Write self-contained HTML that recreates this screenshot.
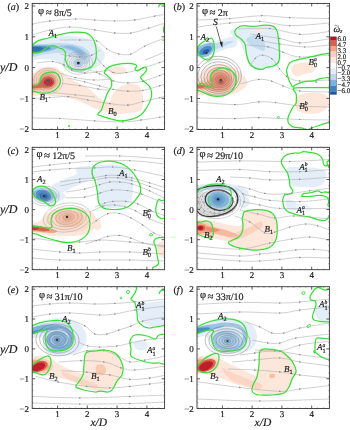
<!DOCTYPE html>
<html><head><meta charset="utf-8"><style>html,body{margin:0;padding:0;background:#fff;}svg{display:block;will-change:transform;}text{fill:#1a1a1a;stroke:#1a1a1a;stroke-width:0.18px;text-rendering:geometricPrecision;}</style></head><body>
<svg width="350" height="430" viewBox="0 0 350 430" font-family="Liberation Serif, serif">
<defs>
<clipPath id="c00"><rect x="32.2" y="3.4" width="132.4" height="126.1"/></clipPath>
<clipPath id="c01"><rect x="197.0" y="3.4" width="132.4" height="126.1"/></clipPath>
<clipPath id="c10"><rect x="32.2" y="147.3" width="132.4" height="122.4"/></clipPath>
<clipPath id="c11"><rect x="197.0" y="147.3" width="132.4" height="122.4"/></clipPath>
<clipPath id="c20"><rect x="32.2" y="286.7" width="132.4" height="121.8"/></clipPath>
<clipPath id="c21"><rect x="197.0" y="286.7" width="132.4" height="121.8"/></clipPath>
<marker id="ar" viewBox="0 0 4 4" refX="2" refY="2" markerWidth="2.4" markerHeight="2.4" orient="auto" markerUnits="userSpaceOnUse"><path d="M0,0.6 L4,2 L0,3.4z" fill="#8a8a8a"/></marker>
<filter id="sm" x="-5%" y="-5%" width="110%" height="110%"><feGaussianBlur stdDeviation="0.45"/></filter>
</defs>
<rect width="350" height="430" fill="#fff"/>
<g clip-path="url(#c00)"><g filter="url(#sm)">
<path d="M32.0,78.0C32.7,74.0 34.0,72.8 36.0,71.0C38.0,69.2 41.0,67.7 44.0,67.0C47.0,66.3 51.2,66.3 54.0,67.0C56.8,67.7 58.7,69.3 61.0,71.0C63.3,72.7 65.5,75.2 68.0,77.0C70.5,78.8 72.7,80.2 76.0,82.0C79.3,83.8 84.5,85.7 88.0,88.0C91.5,90.3 94.3,93.8 97.0,96.0C99.7,98.2 101.8,100.2 104.0,101.0C106.2,101.8 108.7,101.8 110.0,101.0C111.3,100.2 110.8,98.0 112.0,96.0C113.2,94.0 114.3,91.0 117.0,89.0C119.7,87.0 124.5,84.6 128.0,84.0C131.5,83.4 135.7,84.3 138.0,85.6C140.3,86.9 141.2,89.1 142.0,92.0C142.8,94.9 143.3,99.8 143.0,103.0C142.7,106.2 142.7,109.3 140.0,111.0C137.3,112.7 131.2,112.4 127.0,113.0C122.8,113.6 118.8,114.8 115.0,114.5C111.2,114.2 107.3,112.0 104.0,111.0C100.7,110.0 98.0,109.7 95.0,108.5C92.0,107.3 89.2,105.4 86.0,104.0C82.8,102.6 79.7,101.2 76.0,100.0C72.3,98.8 68.0,97.7 64.0,97.0C60.0,96.3 56.0,96.3 52.0,96.0C48.0,95.7 43.3,95.2 40.0,95.0C36.7,94.8 33.3,97.8 32.0,95.0C30.7,92.2 31.3,82.0 32.0,78.0Z" fill="#fde6da"/>
<path d="M110.0,69.0C111.2,68.0 114.5,66.7 117.0,66.5C119.5,66.3 123.1,67.3 124.7,68.0C126.3,68.7 126.9,69.9 126.6,70.8C126.3,71.7 125.2,73.0 123.0,73.6C120.8,74.2 115.8,74.7 113.6,74.5C111.4,74.3 110.6,73.5 110.0,72.6C109.4,71.7 108.8,70.0 110.0,69.0Z" fill="#fde6da"/>
<path d="M32.0,79.0C32.8,75.5 34.8,73.8 37.0,72.0C39.2,70.2 42.3,69.0 45.0,68.5C47.7,68.0 50.8,68.2 53.0,69.0C55.2,69.8 57.2,71.7 58.5,73.5C59.8,75.3 61.1,77.8 61.0,80.0C60.9,82.2 59.7,85.2 58.0,87.0C56.3,88.8 53.7,90.2 51.0,91.0C48.3,91.8 44.7,91.2 42.0,91.5C39.3,91.8 36.7,92.8 35.0,93.0C33.3,93.2 32.5,95.3 32.0,93.0C31.5,90.7 31.2,82.5 32.0,79.0Z" fill="#fbd0bb"/>
<path d="M32.0,84.0C33.0,82.8 36.6,84.1 38.0,83.0C39.4,81.9 39.4,79.0 40.5,77.5C41.6,76.0 42.9,74.5 44.5,73.8C46.1,73.1 48.2,73.0 50.0,73.5C51.8,74.0 54.4,75.4 55.5,77.0C56.6,78.6 56.9,81.2 56.5,83.0C56.1,84.8 54.8,86.9 53.0,88.0C51.2,89.1 48.5,89.2 46.0,89.5C43.5,89.8 40.3,89.4 38.0,89.5C35.7,89.6 33.0,90.9 32.0,90.0C31.0,89.1 31.0,85.2 32.0,84.0Z" fill="#f4a582"/>
<path d="M32.0,85.5C32.8,85.0 35.5,85.8 37.0,85.0C38.5,84.2 39.8,81.8 41.0,80.5C42.2,79.2 43.0,77.7 44.5,77.0C46.0,76.3 48.5,76.1 50.0,76.5C51.5,76.9 53.0,78.2 53.5,79.5C54.0,80.8 53.8,83.2 53.0,84.5C52.2,85.8 50.5,87.0 48.5,87.5C46.5,88.0 43.2,87.7 41.0,87.8C38.8,87.9 36.5,88.1 35.0,88.2C33.5,88.3 32.5,88.7 32.0,88.2C31.5,87.8 31.2,86.0 32.0,85.5Z" fill="#d6604d"/>
<ellipse cx="48.5" cy="82.0" rx="6.2" ry="5.3" fill="#d9503f"/>
<ellipse cx="48.5" cy="82.2" rx="4.6" ry="3.6" fill="#c01a2a"/>
<path d="M32.0,44.0C33.3,40.8 36.7,41.2 40.0,40.0C43.3,38.8 47.7,37.8 52.0,37.0C56.3,36.2 61.3,35.5 66.0,35.5C70.7,35.5 75.7,36.1 80.0,37.0C84.3,37.9 88.7,39.3 92.0,41.0C95.3,42.7 97.8,44.8 100.0,47.0C102.2,49.2 104.5,51.7 105.0,54.0C105.5,56.3 104.3,58.8 103.0,61.0C101.7,63.2 99.5,65.3 97.0,67.0C94.5,68.7 91.5,70.2 88.0,71.0C84.5,71.8 79.7,72.3 76.0,72.0C72.3,71.7 68.7,70.3 66.0,69.0C63.3,67.7 62.2,65.5 60.0,64.0C57.8,62.5 56.0,60.8 53.0,60.0C50.0,59.2 45.5,59.2 42.0,59.0C38.5,58.8 33.7,61.5 32.0,59.0C30.3,56.5 30.7,47.2 32.0,44.0Z" fill="#e4eef8"/>
<path d="M32.0,46.0C34.0,43.9 39.7,44.5 44.0,44.0C48.3,43.5 53.3,43.0 58.0,43.0C62.7,43.0 67.7,43.2 72.0,44.0C76.3,44.8 81.0,45.8 84.0,47.5C87.0,49.2 89.2,51.6 90.0,54.0C90.8,56.4 90.2,60.3 89.0,62.0C87.8,63.7 85.2,64.7 83.0,64.0C80.8,63.3 78.5,59.7 76.0,58.0C73.5,56.3 71.0,54.8 68.0,54.0C65.0,53.2 62.0,52.9 58.0,53.0C54.0,53.1 48.3,53.9 44.0,54.5C39.7,55.1 34.0,57.9 32.0,56.5C30.0,55.1 30.0,48.1 32.0,46.0Z" fill="#c5dcef"/>
<path d="M32.0,46.3C33.3,44.7 37.0,45.0 40.0,44.8C43.0,44.6 47.0,44.6 50.0,45.0C53.0,45.4 57.7,46.1 58.0,47.0C58.3,47.9 55.0,49.5 52.0,50.5C49.0,51.5 43.3,52.2 40.0,52.8C36.7,53.4 33.3,55.4 32.0,54.3C30.7,53.2 30.7,47.9 32.0,46.3Z" fill="#8cbde0"/>
<path d="M32.0,46.8C33.0,45.6 35.7,46.0 38.0,46.0C40.3,46.0 43.8,46.2 46.0,46.6C48.2,47.0 51.2,47.6 51.0,48.3C50.8,49.0 47.5,50.1 45.0,50.8C42.5,51.5 38.2,52.2 36.0,52.6C33.8,53.0 32.7,54.2 32.0,53.2C31.3,52.2 31.0,48.0 32.0,46.8Z" fill="#4a8cc6"/>
<path d="M32.0,47.6C32.8,46.8 35.2,47.0 37.0,47.0C38.8,47.0 42.3,47.3 43.0,47.8C43.7,48.3 42.3,49.6 41.0,50.2C39.7,50.8 36.5,51.3 35.0,51.6C33.5,51.9 32.5,52.6 32.0,51.9C31.5,51.2 31.2,48.4 32.0,47.6Z" fill="#2f6db3"/>
<path d="M58.0,46.0C58.7,45.3 66.2,44.6 70.0,45.0C73.8,45.4 78.2,46.9 81.0,48.5C83.8,50.1 86.3,52.6 87.0,54.5C87.7,56.4 86.2,59.4 85.0,60.0C83.8,60.6 81.8,59.3 80.0,58.0C78.2,56.7 76.3,53.5 74.0,52.0C71.7,50.5 68.7,50.0 66.0,49.0C63.3,48.0 57.3,46.7 58.0,46.0Z" fill="#a3c8e8"/>
<path d="M64.0,46.5C64.7,46.2 69.3,46.0 72.0,46.5C74.7,47.0 78.0,48.2 80.0,49.5C82.0,50.8 83.8,53.0 84.0,54.0C84.2,55.0 82.5,56.0 81.0,55.5C79.5,55.0 77.2,52.2 75.0,51.0C72.8,49.8 69.8,49.2 68.0,48.5C66.2,47.8 63.3,46.8 64.0,46.5Z" fill="#8ab8e0"/>
<ellipse cx="78.3" cy="63.1" rx="5.0" ry="4.0" fill="#b7d5ed"/>
<ellipse cx="78.3" cy="63.1" rx="2.6" ry="2.0" fill="none" stroke="#999" stroke-width="0.42"/>
<ellipse cx="78.3" cy="63.1" rx="4.7" ry="3.7" fill="none" stroke="#999" stroke-width="0.42"/>
<ellipse cx="78.3" cy="63.1" rx="6.8" ry="5.3" fill="none" stroke="#999" stroke-width="0.42"/>
<ellipse cx="78.3" cy="63.1" rx="9.0" ry="7.1" fill="none" stroke="#999" stroke-width="0.42"/>
<ellipse cx="78.3" cy="63.1" rx="11.6" ry="9.0" fill="none" stroke="#999" stroke-width="0.42"/>
<ellipse cx="78.3" cy="63.1" rx="14.5" ry="11.3" fill="none" stroke="#999" stroke-width="0.42"/>
<ellipse cx="48.3" cy="81.0" rx="2.6" ry="2.3" fill="none" stroke="#999" stroke-width="0.42"/>
<ellipse cx="48.3" cy="81.0" rx="4.7" ry="4.1" fill="none" stroke="#999" stroke-width="0.42"/>
<ellipse cx="48.3" cy="81.0" rx="6.9" ry="6.1" fill="none" stroke="#999" stroke-width="0.42"/>
<ellipse cx="48.3" cy="81.0" rx="9.5" ry="8.3" fill="none" stroke="#999" stroke-width="0.42"/>
<ellipse cx="48.3" cy="81.0" rx="12.1" ry="10.6" fill="none" stroke="#999" stroke-width="0.42"/>
<ellipse cx="48.3" cy="81.0" rx="14.7" ry="12.9" fill="none" stroke="#999" stroke-width="0.42"/>
<ellipse cx="78.3" cy="63.1" rx="1.5" ry="1.4" fill="#2a2a2a"/>
<ellipse cx="48.3" cy="81.0" rx="1.5" ry="1.4" fill="#555"/>
<path d="M32.0,24.0C35.0,23.5 42.7,21.8 50.0,21.0C57.3,20.2 68.5,19.2 76.0,19.0C83.5,18.8 88.5,19.7 95.0,20.0C101.5,20.3 108.3,21.0 115.0,21.0C121.7,21.0 128.3,20.8 135.0,20.0C141.7,19.2 150.0,16.9 155.0,16.0C160.0,15.1 163.3,14.7 165.0,14.4" fill="none" stroke="#a8a8a8" stroke-width="0.55" marker-mid="url(#ar)"/>
<path d="M32.0,35.0C35.0,34.2 43.7,31.3 50.0,30.0C56.3,28.7 62.5,27.0 70.0,27.0C77.5,27.0 87.5,29.0 95.0,30.0C102.5,31.0 109.0,32.5 115.0,33.0C121.0,33.5 125.3,33.8 131.0,33.0C136.7,32.2 143.3,29.7 149.0,28.0C154.7,26.3 162.3,23.8 165.0,23.0" fill="none" stroke="#a8a8a8" stroke-width="0.55" marker-mid="url(#ar)"/>
<path d="M60.0,40.0C63.3,40.0 73.8,39.8 80.0,40.0C86.2,40.2 92.5,39.5 97.0,41.0C101.5,42.5 103.3,46.8 107.0,49.0C110.7,51.2 115.0,53.2 119.0,54.0C123.0,54.8 126.7,55.3 131.0,54.0C135.3,52.7 139.3,48.7 145.0,46.0C150.7,43.3 161.7,39.3 165.0,38.0" fill="none" stroke="#a8a8a8" stroke-width="0.55" marker-mid="url(#ar)"/>
<path d="M96.0,57.0C97.3,58.5 101.1,63.4 104.0,66.0C106.9,68.6 109.8,71.5 113.6,72.6C117.4,73.7 121.6,73.4 126.6,72.6C131.6,71.8 137.7,69.7 143.3,68.0C148.9,66.3 156.2,63.7 160.0,62.4C163.8,61.1 165.0,60.4 166.0,60.0" fill="none" stroke="#a8a8a8" stroke-width="0.55" marker-mid="url(#ar)"/>
<path d="M90.0,70.0C91.7,70.7 96.1,72.2 100.0,74.0C103.9,75.8 108.9,79.5 113.6,81.0C118.3,82.5 123.5,82.9 128.4,82.9C133.4,82.9 138.0,82.2 143.3,81.0C148.6,79.8 156.2,76.7 160.0,75.4C163.8,74.1 165.0,73.4 166.0,73.0" fill="none" stroke="#a8a8a8" stroke-width="0.55" marker-mid="url(#ar)"/>
<path d="M68.0,78.0C70.8,78.7 79.7,80.7 85.0,82.0C90.3,83.3 95.2,84.8 100.0,86.0C104.8,87.2 108.9,88.5 113.6,89.4C118.3,90.3 123.5,91.1 128.4,91.2C133.4,91.3 138.0,91.2 143.3,90.3C148.6,89.4 156.2,86.6 160.0,85.6C163.8,84.5 165.0,84.3 166.0,84.0" fill="none" stroke="#a8a8a8" stroke-width="0.55" marker-mid="url(#ar)"/>
<path d="M32.0,98.6C35.0,98.4 43.9,97.8 50.0,97.5C56.1,97.2 62.3,96.3 68.6,96.7C74.9,97.1 81.1,98.8 88.0,100.0C94.9,101.2 103.3,102.9 110.0,103.7C116.7,104.5 122.9,105.5 128.4,105.1C134.0,104.7 138.0,102.6 143.3,101.4C148.6,100.2 156.2,98.6 160.0,97.7C163.8,96.8 165.0,96.3 166.0,96.0" fill="none" stroke="#a8a8a8" stroke-width="0.55" marker-mid="url(#ar)"/>
<path d="M32.0,118.0C36.7,118.1 49.5,118.0 60.0,118.5C70.5,119.0 84.5,120.3 95.0,120.9C105.5,121.5 115.2,122.1 122.9,121.9C130.6,121.8 135.2,120.8 141.4,120.0C147.6,119.2 155.9,117.9 160.0,117.2C164.1,116.5 165.0,116.2 166.0,116.0" fill="none" stroke="#a8a8a8" stroke-width="0.55" marker-mid="url(#ar)"/>
<path d="M145.0,60.0C148.3,58.7 161.7,53.3 165.0,52.0" fill="none" stroke="#a8a8a8" stroke-width="0.55" marker-mid="url(#ar)"/>
<path d="M37.0,62.9C39.6,62.7 48.4,61.3 52.9,61.7C57.4,62.1 61.1,63.7 64.3,65.1C67.5,66.5 68.5,68.7 72.0,70.0C75.5,71.3 80.8,72.7 85.0,73.0C89.2,73.3 92.8,72.5 97.0,72.0C101.2,71.5 107.8,70.3 110.0,70.0" fill="none" stroke="#a8a8a8" stroke-width="0.55" marker-mid="url(#ar)"/>
<path d="M59.7,73.1C62.4,73.9 70.0,76.5 75.7,77.7C81.4,78.9 88.3,79.8 94.0,80.0C99.7,80.2 107.3,79.2 110.0,79.0" fill="none" stroke="#a8a8a8" stroke-width="0.55" marker-mid="url(#ar)"/>
<path d="M62.0,83.4C65.0,83.8 74.2,84.8 80.3,85.7C86.4,86.7 93.6,88.3 98.6,89.1C103.5,89.9 108.1,90.1 110.0,90.3" fill="none" stroke="#a8a8a8" stroke-width="0.55" marker-mid="url(#ar)"/>
<path d="M52.9,92.6C56.7,93.0 68.7,94.2 75.7,94.9C82.7,95.6 91.8,96.7 95.0,97.0" fill="none" stroke="#a8a8a8" stroke-width="0.55" marker-mid="url(#ar)"/>
<path d="M60.0,54.0C61.7,54.3 66.7,55.5 70.0,56.0C73.3,56.5 76.3,57.2 80.0,57.0C83.7,56.8 88.7,56.2 92.0,55.0C95.3,53.8 98.7,50.8 100.0,50.0" fill="none" stroke="#a8a8a8" stroke-width="0.55" marker-mid="url(#ar)"/>
</g>
<path d="M32.0,47.1C32.8,45.4 34.2,42.9 36.9,41.4C39.6,39.9 44.5,39.1 48.3,38.0C52.1,36.9 55.9,35.6 59.7,34.6C63.5,33.6 66.9,32.6 71.1,32.3C75.3,32.0 81.5,31.9 84.9,32.7C88.3,33.5 90.0,35.1 91.7,36.9C93.4,38.7 94.3,41.0 95.1,43.7C95.9,46.4 96.4,50.0 96.4,52.9C96.4,55.8 96.1,58.8 95.3,61.0C94.5,63.2 93.4,65.0 91.7,66.4C90.0,67.8 87.6,68.9 84.9,69.4C82.2,69.9 78.4,70.0 75.7,69.6C73.0,69.2 70.6,68.4 68.9,66.8C67.2,65.2 66.0,62.0 65.4,59.7C64.8,57.4 65.8,54.6 65.4,52.9C65.0,51.2 64.0,50.2 63.1,49.4C62.1,48.6 61.0,48.9 59.7,48.3C58.4,47.7 56.6,46.4 55.1,46.0C53.6,45.6 52.1,45.6 50.6,46.0C49.1,46.4 47.5,47.3 46.0,48.3C44.5,49.2 42.9,50.9 41.4,51.7C39.9,52.5 38.5,52.9 36.9,52.9C35.3,52.9 32.8,52.7 32.0,51.7C31.2,50.7 31.2,48.8 32.0,47.1Z" fill="none" stroke="#3cdc3c" stroke-width="1.25" stroke-linejoin="round"/>
<path d="M32.3,86.1C33.1,85.1 35.7,85.7 36.9,85.0C38.1,84.3 39.0,83.3 39.7,82.1C40.4,80.9 40.2,78.9 40.9,77.6C41.6,76.3 42.5,75.0 43.7,74.1C44.9,73.2 46.6,72.7 48.3,72.4C50.0,72.1 52.4,72.0 54.0,72.4C55.6,72.8 57.0,73.5 58.0,74.7C59.0,76.0 60.0,78.3 60.3,79.9C60.6,81.5 60.3,83.0 59.7,84.4C59.1,85.8 58.0,87.2 56.9,88.4C55.8,89.6 54.5,90.5 52.9,91.3C51.3,92.1 49.2,92.7 47.1,93.0C45.0,93.3 42.4,93.3 40.3,93.0C38.2,92.7 36.0,91.7 34.6,91.3C33.2,90.9 32.4,91.6 32.0,90.7C31.6,89.8 31.5,87.0 32.3,86.1Z" fill="none" stroke="#3cdc3c" stroke-width="1.25" stroke-linejoin="round"/>
<path d="M104.3,72.6C104.6,71.2 106.7,68.5 108.9,67.1C111.1,65.7 114.2,64.9 117.3,64.3C120.4,63.7 124.6,63.4 127.5,63.4C130.4,63.4 133.3,63.8 134.9,64.3C136.5,64.8 136.8,65.3 136.8,66.1C136.8,66.9 134.8,68.1 134.9,68.9C135.1,69.7 136.4,71.0 137.7,70.8C138.9,70.6 141.2,68.6 142.4,68.0C143.6,67.4 144.4,66.8 145.1,67.1C145.8,67.4 146.8,68.8 146.6,69.9C146.4,71.0 145.2,72.4 144.2,73.6C143.2,74.8 140.7,76.1 140.5,77.3C140.3,78.5 141.9,79.6 143.3,81.0C144.7,82.4 147.5,83.8 148.9,85.6C150.3,87.4 151.3,89.8 151.6,92.1C151.9,94.4 151.5,97.1 150.7,99.6C149.9,102.1 148.6,104.5 147.0,107.0C145.4,109.5 143.9,112.4 141.4,114.4C138.9,116.4 135.5,118.0 132.1,119.1C128.7,120.2 124.4,120.9 121.0,120.9C117.6,120.9 114.8,119.9 111.7,119.1C108.6,118.3 104.7,117.1 102.4,116.3C100.1,115.5 98.0,115.5 97.8,114.4C97.6,113.3 100.4,112.0 101.5,109.8C102.6,107.6 103.2,104.4 104.3,101.4C105.4,98.5 106.8,94.7 108.0,92.1C109.2,89.5 111.2,87.8 111.7,85.6C112.2,83.4 111.6,80.8 110.8,79.1C110.0,77.4 108.2,76.5 107.1,75.4C106.0,74.3 104.0,74.0 104.3,72.6Z" fill="none" stroke="#3cdc3c" stroke-width="1.25" stroke-linejoin="round"/>
<circle cx="69" cy="126" r="1" fill="#3cdc3c"/>
<path d="M158.5,7.0C158.8,6.6 159.2,5.0 160.0,4.5C160.8,4.0 162.2,3.9 163.0,4.0C163.8,4.1 164.7,4.8 165.0,5.0" fill="none" stroke="#3cdc3c" stroke-width="1.25" stroke-linejoin="round"/>
<path d="M164.5,25.5C164.3,26.1 163.6,27.8 163.5,29.0C163.4,30.2 163.9,32.3 164.0,33.0" fill="none" stroke="#3cdc3c" stroke-width="1.25" stroke-linejoin="round"/>
<path d="M162.5,40.0C162.8,40.0 164.2,40.0 164.5,40.0" fill="none" stroke="#3cdc3c" stroke-width="1.25" stroke-linejoin="round"/>
</g>
<text x="38.1" y="14.2" font-size="10.5">&#966;</text>
<text y="15.5" font-size="10.0"><tspan x="45.7" font-size="11">&#8776;</tspan><tspan x="53.9">8&#960;/5</tspan></text>
<text x="48.6" y="35.5" font-size="9.0" fill="#222"><tspan font-style="italic">A</tspan><tspan font-size="6.3" dy="2">1</tspan></text>
<text x="39.5" y="99.8" font-size="9.0" fill="#222"><tspan font-style="italic">B</tspan><tspan font-size="6.3" dy="2">1</tspan></text>
<text x="108.0" y="114.0" font-size="9.0" fill="#222"><tspan font-style="italic">B</tspan><tspan font-size="6.3" dy="2">0</tspan></text>
<path d="M57.6,129.5v-3.0M57.6,3.4v3.0M87.3,129.5v-3.0M87.3,3.4v3.0M117.1,129.5v-3.0M117.1,3.4v3.0M146.9,129.5v-3.0M146.9,3.4v3.0M32.2,98.4h3.0M164.6,98.4h-3.0M32.2,67.6h3.0M164.6,67.6h-3.0M32.2,36.8h3.0M164.6,36.8h-3.0M32.2,6.0h3.0M164.6,6.0h-3.0" stroke="#333" stroke-width="0.8" fill="none"/>
<path d="M33.8,129.5v-1.3M33.8,3.4v1.3M39.7,129.5v-1.3M39.7,3.4v1.3M45.7,129.5v-1.3M45.7,3.4v1.3M51.6,129.5v-1.3M51.6,3.4v1.3M63.5,129.5v-1.3M63.5,3.4v1.3M69.5,129.5v-1.3M69.5,3.4v1.3M75.4,129.5v-1.3M75.4,3.4v1.3M81.4,129.5v-1.3M81.4,3.4v1.3M93.3,129.5v-1.3M93.3,3.4v1.3M99.2,129.5v-1.3M99.2,3.4v1.3M105.2,129.5v-1.3M105.2,3.4v1.3M111.2,129.5v-1.3M111.2,3.4v1.3M123.1,129.5v-1.3M123.1,3.4v1.3M129.0,129.5v-1.3M129.0,3.4v1.3M135.0,129.5v-1.3M135.0,3.4v1.3M140.9,129.5v-1.3M140.9,3.4v1.3M152.8,129.5v-1.3M152.8,3.4v1.3M158.8,129.5v-1.3M158.8,3.4v1.3M32.2,123.0h1.3M164.6,123.0h-1.3M32.2,116.9h1.3M164.6,116.9h-1.3M32.2,110.7h1.3M164.6,110.7h-1.3M32.2,104.6h1.3M164.6,104.6h-1.3M32.2,92.2h1.3M164.6,92.2h-1.3M32.2,86.1h1.3M164.6,86.1h-1.3M32.2,79.9h1.3M164.6,79.9h-1.3M32.2,73.8h1.3M164.6,73.8h-1.3M32.2,61.4h1.3M164.6,61.4h-1.3M32.2,55.3h1.3M164.6,55.3h-1.3M32.2,49.1h1.3M164.6,49.1h-1.3M32.2,43.0h1.3M164.6,43.0h-1.3M32.2,30.6h1.3M164.6,30.6h-1.3M32.2,24.5h1.3M164.6,24.5h-1.3M32.2,18.3h1.3M164.6,18.3h-1.3M32.2,12.2h1.3M164.6,12.2h-1.3" stroke="#888" stroke-width="0.5" fill="none"/>
<rect x="32.2" y="3.4" width="132.4" height="126.1" fill="none" stroke="#333" stroke-width="0.9"/>
<text x="57.6" y="138.1" font-size="9.0" text-anchor="middle" fill="#222">1</text>
<text x="87.3" y="138.1" font-size="9.0" text-anchor="middle" fill="#222">2</text>
<text x="117.1" y="138.1" font-size="9.0" text-anchor="middle" fill="#222">3</text>
<text x="146.9" y="138.1" font-size="9.0" text-anchor="middle" fill="#222">4</text>
<text x="29.0" y="9.2" font-size="9.0" text-anchor="end" fill="#222">2</text>
<text x="29.0" y="40.0" font-size="9.0" text-anchor="end" fill="#222">1</text>
<text x="29.0" y="70.8" font-size="9.0" text-anchor="end" fill="#222">0</text>
<text x="29.0" y="101.6" font-size="9.0" text-anchor="end" fill="#222">&#8722;1</text>
<text x="29.0" y="132.4" font-size="9.0" text-anchor="end" fill="#222">&#8722;2</text>
<text x="7.5" y="10.0" font-size="10">(<tspan font-style="italic">a</tspan>)</text>
<g clip-path="url(#c01)"><g filter="url(#sm)">
<path d="M197.0,80.0C197.8,76.3 199.8,74.3 202.0,72.0C204.2,69.7 206.8,67.3 210.0,66.0C213.2,64.7 217.3,63.8 221.0,64.0C224.7,64.2 228.8,65.7 232.0,67.0C235.2,68.3 237.7,70.0 240.0,72.0C242.3,74.0 244.8,76.8 246.0,79.0C247.2,81.2 248.0,83.0 247.0,85.0C246.0,87.0 243.0,89.3 240.0,91.0C237.0,92.7 233.2,94.0 229.0,95.0C224.8,96.0 219.0,97.0 215.0,97.0C211.0,97.0 208.0,95.5 205.0,95.0C202.0,94.5 198.3,96.5 197.0,94.0C195.7,91.5 196.2,83.7 197.0,80.0Z" fill="#fde6da"/>
<path d="M197.0,83.0C198.2,81.0 201.8,81.2 204.0,79.0C206.2,76.8 207.3,72.0 210.0,70.0C212.7,68.0 216.7,67.2 220.0,67.0C223.3,66.8 227.3,67.7 230.0,69.0C232.7,70.3 234.8,72.7 236.0,75.0C237.2,77.3 237.7,80.3 237.0,83.0C236.3,85.7 234.5,89.2 232.0,91.0C229.5,92.8 225.7,93.7 222.0,94.0C218.3,94.3 213.0,93.7 210.0,93.0C207.0,92.3 206.2,90.3 204.0,90.0C201.8,89.7 198.2,92.2 197.0,91.0C195.8,89.8 195.8,85.0 197.0,83.0Z" fill="#fbd0bb"/>
<path d="M197.0,84.0C198.0,83.1 201.0,84.2 203.0,83.5C205.0,82.8 207.5,81.8 209.0,80.0C210.5,78.2 210.2,74.6 212.0,73.0C213.8,71.4 217.3,70.6 220.0,70.5C222.7,70.4 225.9,71.1 228.0,72.5C230.1,73.9 232.0,76.8 232.5,79.0C233.0,81.2 232.2,84.1 231.0,86.0C229.8,87.9 227.8,89.7 225.0,90.5C222.2,91.3 217.3,91.2 214.0,91.0C210.7,90.8 207.8,89.3 205.0,89.0C202.2,88.7 198.3,89.8 197.0,89.0C195.7,88.2 196.0,84.9 197.0,84.0Z" fill="#f3a688"/>
<path d="M197.0,85.2C198.0,84.8 200.8,85.4 203.0,85.2C205.2,85.0 208.3,85.4 210.0,84.0C211.7,82.6 211.5,78.8 213.0,77.0C214.5,75.2 216.8,73.8 219.0,73.5C221.2,73.2 224.2,73.9 226.0,75.0C227.8,76.1 229.2,78.2 229.5,80.0C229.8,81.8 228.9,84.2 227.5,85.5C226.1,86.8 223.4,87.6 221.0,88.0C218.6,88.4 215.8,88.1 213.0,88.0C210.2,87.9 206.7,87.6 204.0,87.5C201.3,87.4 198.2,87.9 197.0,87.5C195.8,87.1 196.0,85.6 197.0,85.2Z" fill="#ef9172"/>
<path d="M197.0,85.5C197.8,85.0 200.5,85.1 202.0,85.3C203.5,85.5 206.0,86.0 206.0,86.5C206.0,87.0 203.5,87.8 202.0,88.0C200.5,88.2 197.8,88.4 197.0,88.0C196.2,87.6 196.2,86.0 197.0,85.5Z" fill="#e06a52"/>
<ellipse cx="220.7" cy="80.5" rx="5.5" ry="4.6" fill="#ea7c60"/>
<ellipse cx="221.0" cy="82.0" rx="2.6" ry="1.8" fill="#d8443e"/>
<path d="M292.0,66.0C293.2,64.2 297.0,63.5 300.0,63.0C303.0,62.5 307.3,62.3 310.0,63.0C312.7,63.7 315.5,65.5 316.0,67.0C316.5,68.5 315.0,70.8 313.0,72.0C311.0,73.2 306.5,73.2 304.0,74.0C301.5,74.8 299.8,76.5 298.0,76.5C296.2,76.5 294.0,75.8 293.0,74.0C292.0,72.2 290.8,67.8 292.0,66.0Z" fill="#fde6da"/>
<path d="M296.0,97.0C297.7,95.4 301.3,94.2 305.0,93.5C308.7,92.8 314.3,92.6 318.0,93.0C321.7,93.4 325.3,93.8 327.0,96.0C328.7,98.2 329.2,103.2 328.0,106.0C326.8,108.8 323.7,111.2 320.0,112.5C316.3,113.8 309.8,113.9 306.0,113.5C302.2,113.1 298.8,111.8 297.0,110.0C295.2,108.2 295.2,105.2 295.0,103.0C294.8,100.8 294.3,98.6 296.0,97.0Z" fill="#fde6da"/>
<path d="M197.0,46.0C198.8,43.5 203.8,43.1 208.0,42.0C212.2,40.9 217.3,40.5 222.0,39.5C226.7,38.5 233.7,34.9 236.0,36.0C238.3,37.1 237.7,43.8 236.0,46.0C234.3,48.2 229.3,47.8 226.0,49.0C222.7,50.2 219.0,51.7 216.0,53.0C213.0,54.3 211.2,56.3 208.0,57.0C204.8,57.7 198.8,58.8 197.0,57.0C195.2,55.2 195.2,48.5 197.0,46.0Z" fill="#e4eef8"/>
<path d="M230.0,32.0C230.0,29.5 236.3,28.0 240.0,27.0C243.7,26.0 248.0,26.3 252.0,26.0C256.0,25.7 260.3,24.8 264.0,25.0C267.7,25.2 271.7,25.7 274.0,27.0C276.3,28.3 277.0,30.0 278.0,33.0C279.0,36.0 279.5,40.8 280.0,45.0C280.5,49.2 281.3,54.5 281.0,58.0C280.7,61.5 280.2,64.1 278.0,66.0C275.8,67.9 271.7,69.0 268.0,69.5C264.3,70.0 259.3,70.1 256.0,69.0C252.7,67.9 250.0,65.8 248.0,63.0C246.0,60.2 245.3,55.5 244.0,52.0C242.7,48.5 242.3,45.3 240.0,42.0C237.7,38.7 230.0,34.5 230.0,32.0Z" fill="#e4eef8"/>
<path d="M246.4,39.0C247.1,37.4 251.4,35.8 254.0,35.5C256.6,35.2 260.2,35.6 262.0,37.0C263.8,38.4 264.6,41.7 265.0,44.0C265.4,46.3 265.6,50.0 264.4,50.8C263.2,51.6 260.4,50.0 258.0,49.0C255.6,48.0 251.9,46.7 250.0,45.0C248.1,43.3 245.7,40.6 246.4,39.0Z" fill="#c5dcef"/>
<path d="M197.0,47.0C198.3,45.2 202.2,45.1 205.0,44.5C207.8,43.9 210.5,44.0 214.0,43.5C217.5,43.0 222.7,41.9 226.0,41.5C229.3,41.1 234.0,40.3 234.0,41.0C234.0,41.7 229.0,44.1 226.0,45.5C223.0,46.9 219.0,48.1 216.0,49.5C213.0,50.9 210.7,52.9 208.0,54.0C205.3,55.1 201.8,55.8 200.0,56.0C198.2,56.2 197.5,56.5 197.0,55.0C196.5,53.5 195.7,48.8 197.0,47.0Z" fill="#c5dcef"/>
<path d="M197.5,48.0C198.6,46.4 201.8,45.4 204.0,44.5C206.2,43.6 209.3,42.4 211.0,42.5C212.7,42.6 213.7,43.6 214.0,45.0C214.3,46.4 214.0,49.2 213.0,51.0C212.0,52.8 210.0,55.0 208.0,56.0C206.0,57.0 202.8,57.3 201.0,57.0C199.2,56.7 198.1,55.5 197.5,54.0C196.9,52.5 196.4,49.6 197.5,48.0Z" fill="#8cbde0"/>
<ellipse cx="205.5" cy="50.5" rx="7.0" ry="3.6" fill="#4a8cc6" transform="rotate(-28 205.5 50.5)"/>
<ellipse cx="206.0" cy="51.5" rx="3.6" ry="2.0" fill="#2a62aa" transform="rotate(-28 206.0 51.5)"/>
<ellipse cx="206.5" cy="53.0" rx="1.2" ry="0.9" fill="#333"/>
<ellipse cx="220.4" cy="79.5" rx="2.7" ry="2.2" fill="none" stroke="#7a7a7a" stroke-width="0.50"/>
<ellipse cx="220.2" cy="79.1" rx="4.9" ry="4.0" fill="none" stroke="#7a7a7a" stroke-width="0.50"/>
<ellipse cx="219.9" cy="78.7" rx="7.1" ry="5.9" fill="none" stroke="#7a7a7a" stroke-width="0.50"/>
<ellipse cx="219.6" cy="78.2" rx="9.7" ry="8.1" fill="none" stroke="#7a7a7a" stroke-width="0.50"/>
<ellipse cx="219.3" cy="77.7" rx="12.4" ry="10.3" fill="none" stroke="#7a7a7a" stroke-width="0.50"/>
<ellipse cx="219.0" cy="77.2" rx="15.1" ry="12.6" fill="none" stroke="#7a7a7a" stroke-width="0.50"/>
<ellipse cx="218.7" cy="76.7" rx="17.8" ry="14.8" fill="none" stroke="#7a7a7a" stroke-width="0.50"/>
<ellipse cx="218.4" cy="76.2" rx="20.5" ry="17.1" fill="none" stroke="#7a7a7a" stroke-width="0.50"/>
<ellipse cx="218.1" cy="75.7" rx="23.2" ry="19.4" fill="none" stroke="#7a7a7a" stroke-width="0.50"/>
<ellipse cx="220.7" cy="80.0" rx="1.3" ry="1.2" fill="#444"/>
<path d="M197.0,20.0C202.5,19.8 219.2,19.3 230.0,18.6C240.8,17.9 252.0,15.8 262.0,15.7C272.0,15.5 278.7,17.2 290.0,17.7C301.3,18.2 323.3,18.5 330.0,18.6" fill="none" stroke="#a8a8a8" stroke-width="0.55" marker-mid="url(#ar)"/>
<path d="M197.0,27.0C202.5,26.3 219.5,23.9 230.0,23.0C240.5,22.1 250.0,20.9 260.0,21.4C270.0,21.8 278.3,25.4 290.0,25.7C301.7,25.9 323.3,23.4 330.0,22.9" fill="none" stroke="#a8a8a8" stroke-width="0.55" marker-mid="url(#ar)"/>
<path d="M238.0,29.0C243.3,28.9 259.7,27.7 270.0,28.6C280.3,29.5 290.0,33.8 300.0,34.3C310.0,34.8 325.0,31.9 330.0,31.4" fill="none" stroke="#a8a8a8" stroke-width="0.55" marker-mid="url(#ar)"/>
<path d="M250.0,34.0C255.0,34.8 271.7,37.1 280.0,38.6C288.3,40.1 291.7,42.9 300.0,42.9C308.3,42.9 325.0,39.3 330.0,38.6" fill="none" stroke="#a8a8a8" stroke-width="0.55" marker-mid="url(#ar)"/>
<path d="M262.0,41.0C265.0,41.5 272.8,43.0 280.0,44.0C287.2,45.0 296.7,46.8 305.0,47.0C313.3,47.2 325.8,45.3 330.0,45.0" fill="none" stroke="#a8a8a8" stroke-width="0.55" marker-mid="url(#ar)"/>
<path d="M246.0,45.0C249.8,45.3 262.3,45.7 268.5,46.9C274.7,48.1 278.1,50.7 283.4,52.4C288.6,54.1 292.2,56.6 300.0,57.0C307.8,57.4 325.0,55.3 330.0,55.0" fill="none" stroke="#a8a8a8" stroke-width="0.55" marker-mid="url(#ar)"/>
<path d="M250.0,66.0C250.9,64.7 253.3,59.8 255.5,58.0C257.6,56.2 260.1,55.0 262.9,55.2C265.7,55.4 269.4,56.7 272.2,59.0C275.0,61.3 277.2,66.2 279.7,69.2C282.2,72.2 283.7,74.7 287.1,76.7C290.5,78.7 292.9,80.5 300.0,81.0C307.1,81.5 325.0,80.2 330.0,80.0" fill="none" stroke="#a8a8a8" stroke-width="0.55" marker-mid="url(#ar)"/>
<path d="M240.0,84.0C243.2,83.2 253.8,79.9 259.2,79.4C264.6,79.0 268.2,80.2 272.2,81.3C276.2,82.4 278.8,84.4 283.4,86.0C288.0,87.6 292.2,90.0 300.0,91.0C307.8,92.0 325.0,91.8 330.0,92.0" fill="none" stroke="#a8a8a8" stroke-width="0.55" marker-mid="url(#ar)"/>
<path d="M197.0,102.0C203.3,102.4 224.6,104.6 235.0,104.6C245.4,104.6 252.4,102.1 259.2,101.8C266.0,101.5 269.2,102.0 276.0,102.7C282.8,103.4 291.0,105.3 300.0,106.0C309.0,106.7 325.0,106.8 330.0,107.0" fill="none" stroke="#a8a8a8" stroke-width="0.55" marker-mid="url(#ar)"/>
<path d="M197.0,118.0C203.3,118.1 224.6,118.7 235.0,118.6C245.4,118.5 248.4,117.4 259.2,117.6C270.0,117.8 288.2,119.1 300.0,119.5C311.8,119.9 325.0,119.9 330.0,120.0" fill="none" stroke="#a8a8a8" stroke-width="0.55" marker-mid="url(#ar)"/>
</g>
<path d="M198.3,46.3C199.2,45.1 201.4,43.1 203.0,42.0C204.6,40.9 206.5,40.1 208.0,39.5C209.5,38.9 211.1,37.9 212.0,38.3C212.9,38.7 213.2,40.5 213.6,42.0C214.0,43.5 214.4,45.4 214.4,47.4C214.4,49.4 214.1,52.1 213.5,54.0C212.9,55.9 212.1,57.5 211.0,58.5C209.9,59.5 208.5,60.2 207.0,60.0C205.5,59.8 203.4,58.7 202.0,57.5C200.6,56.3 199.2,54.4 198.5,53.0C197.8,51.6 197.6,50.1 197.6,49.0C197.6,47.9 197.4,47.5 198.3,46.3Z" fill="none" stroke="#3cdc3c" stroke-width="1.25" stroke-linejoin="round"/>
<path d="M234.8,31.6C235.0,30.3 235.9,28.7 237.4,27.7C238.9,26.7 241.0,25.9 243.8,25.7C246.6,25.5 250.7,26.5 254.1,26.4C257.5,26.3 261.2,25.1 264.4,25.1C267.6,25.1 271.2,25.3 273.4,26.4C275.5,27.5 276.4,29.2 277.3,31.6C278.2,34.0 278.2,37.5 278.6,40.6C279.0,43.8 279.3,47.5 279.4,50.5C279.5,53.5 279.8,56.6 279.4,58.8C279.0,61.0 278.4,62.3 277.3,63.5C276.2,64.7 275.0,65.3 273.1,66.0C271.2,66.7 267.9,66.9 266.0,67.5C264.1,68.1 263.8,69.4 261.8,69.4C259.8,69.4 256.2,68.8 254.1,67.6C252.0,66.4 250.3,64.8 249.0,62.4C247.7,60.0 247.1,56.4 246.4,53.4C245.8,50.4 245.9,46.8 245.1,44.4C244.2,42.0 242.8,40.8 241.3,39.3C239.8,37.8 237.2,36.7 236.1,35.4C235.0,34.1 234.6,32.9 234.8,31.6Z" fill="none" stroke="#3cdc3c" stroke-width="1.25" stroke-linejoin="round"/>
<path d="M197.0,86.0C197.2,85.2 197.7,85.6 198.4,85.1C199.1,84.6 200.4,83.0 201.4,83.0C202.4,83.0 203.3,84.4 204.4,85.1C205.5,85.8 206.8,86.6 207.9,86.9C209.1,87.2 210.6,87.3 211.3,86.9C212.0,86.5 212.1,85.8 212.1,84.7C212.1,83.6 211.5,81.8 211.3,80.4C211.1,79.0 210.8,77.4 210.9,76.1C211.0,74.8 211.3,73.8 212.1,72.7C212.9,71.6 213.9,70.5 215.6,69.7C217.3,68.9 220.1,67.9 222.4,67.9C224.7,67.9 227.3,68.6 229.3,69.6C231.3,70.6 233.3,72.1 234.5,73.9C235.7,75.8 236.2,78.6 236.2,80.7C236.2,82.8 235.4,84.8 234.5,86.7C233.6,88.6 232.7,90.4 231.0,91.9C229.3,93.4 226.5,94.9 224.2,95.6C221.9,96.3 219.6,96.3 217.3,96.3C215.0,96.3 212.4,95.9 210.4,95.4C208.4,94.9 207.0,94.0 205.3,93.3C203.6,92.6 201.5,91.7 200.1,91.1C198.7,90.5 197.5,90.6 197.0,89.8C196.5,89.0 196.8,86.8 197.0,86.0Z" fill="none" stroke="#3cdc3c" stroke-width="1.25" stroke-linejoin="round"/>
<path d="M287.8,66.2C288.3,65.5 288.6,63.2 290.9,62.0C293.2,60.8 297.9,59.7 301.4,58.8C304.9,57.9 308.7,57.4 311.8,56.7C314.9,56.0 317.8,55.1 320.2,54.6C322.6,54.1 324.9,53.8 326.5,53.6C328.1,53.4 329.4,53.5 330.0,53.5" fill="none" stroke="#3cdc3c" stroke-width="1.25" stroke-linejoin="round"/>
<path d="M287.8,66.2C287.6,67.1 286.5,69.2 286.7,71.4C286.9,73.7 288.1,77.6 288.8,79.7C289.5,81.8 290.2,82.7 290.9,83.9C291.6,85.1 292.3,86.9 293.0,87.1C293.7,87.3 293.4,85.9 295.1,85.0C296.9,84.1 300.4,82.5 303.5,81.8C306.6,81.1 311.1,81.3 313.9,80.8C316.7,80.3 318.1,79.2 320.2,78.7C322.3,78.2 324.9,77.9 326.5,77.7C328.1,77.5 329.4,77.5 330.0,77.5" fill="none" stroke="#3cdc3c" stroke-width="1.25" stroke-linejoin="round"/>
<path d="M316.0,80.8C316.0,81.2 316.2,82.6 316.2,83.0" fill="none" stroke="#3cdc3c" stroke-width="1.25" stroke-linejoin="round"/>
<path d="M330.0,88.0C329.4,88.0 329.5,87.8 326.5,87.7C323.5,87.7 317.2,87.6 311.8,87.7C306.4,87.8 296.7,87.0 294.1,88.1C291.5,89.2 295.9,92.0 296.2,94.4C296.5,96.9 296.7,100.7 296.2,102.8C295.7,104.9 293.9,105.6 293.0,107.0C292.1,108.4 291.6,109.7 290.9,111.1C290.2,112.5 289.3,113.9 288.8,115.3C288.3,116.7 287.8,118.1 287.8,119.5C287.8,120.9 287.9,122.5 288.8,123.7C289.7,124.9 290.9,126.1 293.0,126.8C295.1,127.5 299.2,127.5 301.4,127.9C303.6,128.3 305.2,129.2 306.0,129.5" fill="none" stroke="#3cdc3c" stroke-width="1.25" stroke-linejoin="round"/>
<path d="M309.0,129.5C309.5,129.2 309.2,128.9 311.8,127.9C314.4,126.9 321.4,124.8 324.4,123.7C327.4,122.7 329.1,121.9 330.0,121.6" fill="none" stroke="#3cdc3c" stroke-width="1.25" stroke-linejoin="round"/>
<circle cx="278.4" cy="117.4" r="1" fill="none" stroke="#3cdc3c" stroke-width="0.9"/>
</g>
<path d="M216.3,26.5 L221.6,45.5" stroke="#222" stroke-width="0.7"/>
<path d="M219.7,42.3 L222.3,48 L222.6,41.5 Z" fill="#222"/>
<text x="201.9" y="14.2" font-size="10.5">&#966;</text>
<text y="15.5" font-size="10.0"><tspan x="209.5" font-size="11">&#8776;</tspan><tspan x="217.7">2&#960;</tspan></text>
<text x="213" y="24.5" font-size="9.5" font-style="italic">S</text>
<text x="200.5" y="39.8" font-size="9.0" fill="#222"><tspan font-style="italic">A</tspan><tspan font-size="6.3" dy="2">2</tspan></text>
<text x="255.4" y="39.0" font-size="9.0" fill="#222"><tspan font-style="italic">A</tspan><tspan font-size="6.3" dy="2">1</tspan></text>
<text x="308.5" y="64.5" font-size="9.0" fill="#222"><tspan font-style="italic">B</tspan><tspan font-size="5.6" dy="-3.5" font-style="italic">a</tspan><tspan font-size="6.3" dx="-2.9" dy="6">0</tspan></text>
<text x="299.3" y="108.5" font-size="9.0" fill="#222"><tspan font-style="italic">B</tspan><tspan font-size="5.6" dy="-3.5" font-style="italic">b</tspan><tspan font-size="6.3" dx="-2.9" dy="6">0</tspan></text>
<path d="M222.4,129.5v-3.0M222.4,3.4v3.0M252.1,129.5v-3.0M252.1,3.4v3.0M281.9,129.5v-3.0M281.9,3.4v3.0M311.7,129.5v-3.0M311.7,3.4v3.0M197.0,98.4h3.0M329.4,98.4h-3.0M197.0,67.6h3.0M329.4,67.6h-3.0M197.0,36.8h3.0M329.4,36.8h-3.0M197.0,6.0h3.0M329.4,6.0h-3.0" stroke="#333" stroke-width="0.8" fill="none"/>
<path d="M198.6,129.5v-1.3M198.6,3.4v1.3M204.5,129.5v-1.3M204.5,3.4v1.3M210.5,129.5v-1.3M210.5,3.4v1.3M216.4,129.5v-1.3M216.4,3.4v1.3M228.3,129.5v-1.3M228.3,3.4v1.3M234.3,129.5v-1.3M234.3,3.4v1.3M240.2,129.5v-1.3M240.2,3.4v1.3M246.2,129.5v-1.3M246.2,3.4v1.3M258.1,129.5v-1.3M258.1,3.4v1.3M264.0,129.5v-1.3M264.0,3.4v1.3M270.0,129.5v-1.3M270.0,3.4v1.3M276.0,129.5v-1.3M276.0,3.4v1.3M287.9,129.5v-1.3M287.9,3.4v1.3M293.8,129.5v-1.3M293.8,3.4v1.3M299.8,129.5v-1.3M299.8,3.4v1.3M305.7,129.5v-1.3M305.7,3.4v1.3M317.6,129.5v-1.3M317.6,3.4v1.3M323.6,129.5v-1.3M323.6,3.4v1.3M197.0,123.0h1.3M329.4,123.0h-1.3M197.0,116.9h1.3M329.4,116.9h-1.3M197.0,110.7h1.3M329.4,110.7h-1.3M197.0,104.6h1.3M329.4,104.6h-1.3M197.0,92.2h1.3M329.4,92.2h-1.3M197.0,86.1h1.3M329.4,86.1h-1.3M197.0,79.9h1.3M329.4,79.9h-1.3M197.0,73.8h1.3M329.4,73.8h-1.3M197.0,61.4h1.3M329.4,61.4h-1.3M197.0,55.3h1.3M329.4,55.3h-1.3M197.0,49.1h1.3M329.4,49.1h-1.3M197.0,43.0h1.3M329.4,43.0h-1.3M197.0,30.6h1.3M329.4,30.6h-1.3M197.0,24.5h1.3M329.4,24.5h-1.3M197.0,18.3h1.3M329.4,18.3h-1.3M197.0,12.2h1.3M329.4,12.2h-1.3" stroke="#888" stroke-width="0.5" fill="none"/>
<rect x="197.0" y="3.4" width="132.4" height="126.1" fill="none" stroke="#333" stroke-width="0.9"/>
<text x="222.4" y="138.1" font-size="9.0" text-anchor="middle" fill="#222">1</text>
<text x="252.1" y="138.1" font-size="9.0" text-anchor="middle" fill="#222">2</text>
<text x="281.9" y="138.1" font-size="9.0" text-anchor="middle" fill="#222">3</text>
<text x="311.7" y="138.1" font-size="9.0" text-anchor="middle" fill="#222">4</text>
<text x="193.8" y="9.2" font-size="9.0" text-anchor="end" fill="#222">2</text>
<text x="193.8" y="40.0" font-size="9.0" text-anchor="end" fill="#222">1</text>
<text x="193.8" y="70.8" font-size="9.0" text-anchor="end" fill="#222">0</text>
<text x="193.8" y="101.6" font-size="9.0" text-anchor="end" fill="#222">&#8722;1</text>
<text x="193.8" y="132.4" font-size="9.0" text-anchor="end" fill="#222">&#8722;2</text>
<text x="173.5" y="10.0" font-size="10">(<tspan font-style="italic">b</tspan>)</text>
<g clip-path="url(#c10)"><g filter="url(#sm)">
<path d="M32.0,224.0C33.3,222.0 37.7,222.7 40.0,221.0C42.3,219.3 43.5,216.0 46.0,214.0C48.5,212.0 51.7,210.2 55.0,209.0C58.3,207.8 61.8,207.2 66.0,207.0C70.2,206.8 76.0,206.8 80.0,207.5C84.0,208.2 87.3,209.4 90.0,211.0C92.7,212.6 94.7,215.0 96.0,217.0C97.3,219.0 98.3,221.0 98.0,223.0C97.7,225.0 96.0,227.2 94.0,229.0C92.0,230.8 89.3,232.8 86.0,234.0C82.7,235.2 78.0,235.7 74.0,236.0C70.0,236.3 65.7,236.0 62.0,236.0C58.3,236.0 55.3,236.3 52.0,236.0C48.7,235.7 45.3,234.5 42.0,234.0C38.7,233.5 33.7,234.7 32.0,233.0C30.3,231.3 30.7,226.0 32.0,224.0Z" fill="#fde6da"/>
<path d="M46.0,219.0C46.3,216.5 49.3,213.7 52.0,212.0C54.7,210.3 58.3,209.5 62.0,209.0C65.7,208.5 70.3,208.5 74.0,209.0C77.7,209.5 81.3,210.5 84.0,212.0C86.7,213.5 89.2,215.7 90.0,218.0C90.8,220.3 90.3,223.8 89.0,226.0C87.7,228.2 85.2,230.0 82.0,231.0C78.8,232.0 74.0,232.0 70.0,232.0C66.0,232.0 61.3,231.8 58.0,231.0C54.7,230.2 52.0,229.0 50.0,227.0C48.0,225.0 45.7,221.5 46.0,219.0Z" fill="#fcdccb"/>
<path d="M55.0,216.0C55.7,214.3 57.5,212.8 60.0,212.0C62.5,211.2 66.7,210.8 70.0,211.0C73.3,211.2 77.7,211.8 80.0,213.0C82.3,214.2 83.8,216.2 84.0,218.0C84.2,219.8 83.0,222.5 81.0,224.0C79.0,225.5 75.2,226.7 72.0,227.0C68.8,227.3 64.7,226.8 62.0,226.0C59.3,225.2 57.2,223.7 56.0,222.0C54.8,220.3 54.3,217.7 55.0,216.0Z" fill="#f8c4aa"/>
<ellipse cx="68.0" cy="217.5" rx="6.0" ry="4.0" fill="#f4b195" transform="rotate(-10 68.0 217.5)"/>
<path d="M32.0,225.0C33.3,224.2 37.0,225.4 40.0,226.0C43.0,226.6 47.2,227.7 50.0,228.5C52.8,229.3 56.5,230.2 57.0,231.0C57.5,231.8 55.2,232.8 53.0,233.0C50.8,233.2 46.8,232.8 44.0,232.5C41.2,232.2 38.0,231.8 36.0,231.5C34.0,231.2 32.7,232.1 32.0,231.0C31.3,229.9 30.7,225.8 32.0,225.0Z" fill="#f4a582"/>
<path d="M32.0,226.0C33.0,225.4 35.7,226.1 38.0,226.5C40.3,226.9 44.0,227.8 46.0,228.5C48.0,229.2 50.3,230.0 50.0,230.5C49.7,231.0 46.3,231.3 44.0,231.3C41.7,231.3 38.0,230.5 36.0,230.3C34.0,230.1 32.7,230.7 32.0,230.0C31.3,229.3 31.0,226.6 32.0,226.0Z" fill="#d6604d"/>
<ellipse cx="35.0" cy="228.0" rx="3.5" ry="2.0" fill="#c23a30"/>
<path d="M157.7,243.4C158.9,242.1 163.8,239.9 165.0,242.0C166.2,244.1 166.0,253.7 165.0,256.0C164.0,258.3 160.2,256.8 159.0,255.8C157.8,254.8 157.7,252.1 157.5,250.0C157.3,247.9 156.4,244.7 157.7,243.4Z" fill="#fde6da"/>
<path d="M95.0,218.0C96.0,217.5 99.0,219.3 100.0,221.0C101.0,222.7 101.7,226.5 101.0,228.0C100.3,229.5 97.2,230.7 96.0,230.0C94.8,229.3 94.2,226.0 94.0,224.0C93.8,222.0 94.0,218.5 95.0,218.0Z" fill="#fde6da"/>
<path d="M97.0,167.0C98.5,164.2 102.5,165.3 106.0,165.0C109.5,164.7 114.3,164.5 118.0,165.0C121.7,165.5 125.5,166.2 128.0,168.0C130.5,169.8 132.2,172.3 133.0,176.0C133.8,179.7 133.3,186.0 133.0,190.0C132.7,194.0 132.5,197.3 131.0,200.0C129.5,202.7 127.2,204.7 124.0,206.0C120.8,207.3 115.7,207.9 112.0,208.0C108.3,208.1 104.3,208.2 102.0,206.5C99.7,204.8 98.8,202.1 98.0,198.0C97.2,193.9 97.2,187.2 97.0,182.0C96.8,176.8 95.5,169.8 97.0,167.0Z" fill="#e4eef8"/>
<path d="M52.0,186.0C52.3,184.0 56.7,182.7 60.0,181.0C63.3,179.3 68.0,177.7 72.0,176.0C76.0,174.3 80.2,172.5 84.0,171.0C87.8,169.5 92.0,167.8 95.0,167.0C98.0,166.2 101.2,164.7 102.0,166.0C102.8,167.3 102.0,172.7 100.0,175.0C98.0,177.3 93.7,178.3 90.0,180.0C86.3,181.7 82.0,183.2 78.0,185.0C74.0,186.8 69.3,189.7 66.0,191.0C62.7,192.3 60.3,193.8 58.0,193.0C55.7,192.2 51.7,188.0 52.0,186.0Z" fill="#e4eef8"/>
<path d="M76.0,168.0C77.3,166.3 84.0,166.5 88.0,166.0C92.0,165.5 98.0,164.0 100.0,165.0C102.0,166.0 101.7,170.5 100.0,172.0C98.3,173.5 93.3,173.3 90.0,174.0C86.7,174.7 82.3,177.0 80.0,176.0C77.7,175.0 74.7,169.7 76.0,168.0Z" fill="#e4eef8"/>
<path d="M33.0,189.0C34.2,187.4 37.2,186.8 40.0,186.5C42.8,186.2 46.7,186.8 50.0,187.5C53.3,188.2 57.3,189.5 60.0,191.0C62.7,192.5 66.0,194.8 66.0,196.5C66.0,198.2 62.3,199.8 60.0,201.0C57.7,202.2 54.7,203.5 52.0,204.0C49.3,204.5 46.7,204.5 44.0,204.0C41.3,203.5 37.8,202.3 36.0,201.0C34.2,199.7 33.5,198.0 33.0,196.0C32.5,194.0 31.8,190.6 33.0,189.0Z" fill="#e4eef8"/>
<path d="M33.5,190.0C34.8,188.7 38.4,187.8 41.0,187.5C43.6,187.2 46.5,187.8 49.0,188.5C51.5,189.2 54.3,190.6 56.0,192.0C57.7,193.4 59.5,195.4 59.0,197.0C58.5,198.6 55.3,200.6 53.0,201.5C50.7,202.4 47.7,202.8 45.0,202.5C42.3,202.2 38.9,201.2 37.0,200.0C35.1,198.8 34.1,197.2 33.5,195.5C32.9,193.8 32.2,191.3 33.5,190.0Z" fill="#c5dcef"/>
<path d="M34.0,191.5C35.0,190.2 38.7,189.7 41.0,189.5C43.3,189.3 46.0,189.8 48.0,190.5C50.0,191.2 52.2,192.6 53.0,194.0C53.8,195.4 54.0,197.8 53.0,199.0C52.0,200.2 49.2,201.3 47.0,201.5C44.8,201.7 42.0,200.8 40.0,200.0C38.0,199.2 36.0,198.4 35.0,197.0C34.0,195.6 33.0,192.8 34.0,191.5Z" fill="#8cbde0"/>
<ellipse cx="43.5" cy="195.5" rx="8.0" ry="5.5" fill="#4a8cc6" transform="rotate(15 43.5 195.5)"/>
<ellipse cx="44.0" cy="196.0" rx="5.0" ry="3.4" fill="#3270b6" transform="rotate(15 44.0 196.0)"/>
<ellipse cx="44.5" cy="196.5" rx="2.6" ry="1.9" fill="#2a5ea6" transform="rotate(15 44.5 196.5)"/>
<ellipse cx="44.0" cy="196.0" rx="1.0" ry="1.0" fill="#333"/>
<ellipse cx="45.0" cy="196.0" rx="3.4" ry="2.4" fill="none" stroke="#999" stroke-width="0.42"/>
<ellipse cx="45.0" cy="196.0" rx="5.8" ry="4.0" fill="none" stroke="#999" stroke-width="0.42"/>
<ellipse cx="45.0" cy="196.0" rx="8.6" ry="6.0" fill="none" stroke="#999" stroke-width="0.42"/>
<ellipse cx="45.0" cy="196.0" rx="11.5" ry="8.0" fill="none" stroke="#999" stroke-width="0.42"/>
<ellipse cx="45.0" cy="196.0" rx="14.4" ry="10.0" fill="none" stroke="#999" stroke-width="0.42"/>
<ellipse cx="67.0" cy="217.5" rx="4.2" ry="2.5" fill="none" stroke="#999" stroke-width="0.42" transform="rotate(-8 67.0 217.5)"/>
<ellipse cx="67.0" cy="217.5" rx="7.7" ry="4.7" fill="none" stroke="#999" stroke-width="0.42" transform="rotate(-8 67.0 217.5)"/>
<ellipse cx="67.0" cy="217.5" rx="11.2" ry="6.8" fill="none" stroke="#999" stroke-width="0.42" transform="rotate(-8 67.0 217.5)"/>
<ellipse cx="67.0" cy="217.5" rx="15.4" ry="9.3" fill="none" stroke="#999" stroke-width="0.42" transform="rotate(-8 67.0 217.5)"/>
<ellipse cx="67.0" cy="217.5" rx="19.6" ry="11.9" fill="none" stroke="#999" stroke-width="0.42" transform="rotate(-8 67.0 217.5)"/>
<ellipse cx="67.0" cy="217.5" rx="23.8" ry="14.4" fill="none" stroke="#999" stroke-width="0.42" transform="rotate(-8 67.0 217.5)"/>
<ellipse cx="67.0" cy="217.0" rx="1.3" ry="1.2" fill="#333"/>
<path d="M85.0,156.0C90.8,156.0 106.5,155.5 120.0,156.0C133.5,156.5 158.3,158.5 166.0,159.0" fill="none" stroke="#a8a8a8" stroke-width="0.55" marker-mid="url(#ar)"/>
<path d="M32.0,167.0C35.0,166.7 43.7,165.7 50.0,165.0C56.3,164.3 63.3,163.6 70.0,163.0C76.7,162.4 80.0,161.8 90.0,161.4C100.0,161.0 117.3,160.2 130.0,160.7C142.7,161.1 160.0,163.5 166.0,164.1" fill="none" stroke="#a8a8a8" stroke-width="0.55" marker-mid="url(#ar)"/>
<path d="M32.0,172.0C35.0,171.7 43.7,170.6 50.0,170.0C56.3,169.4 62.5,168.9 70.0,168.6C77.5,168.2 87.8,168.2 95.0,167.9C102.2,167.6 106.3,166.7 113.0,167.0C119.7,167.3 126.2,168.4 135.0,170.0C143.8,171.6 160.8,175.6 166.0,176.7" fill="none" stroke="#a8a8a8" stroke-width="0.55" marker-mid="url(#ar)"/>
<path d="M60.0,182.0C63.3,181.5 74.4,179.7 80.0,179.0C85.6,178.3 89.1,178.6 93.4,178.0C97.7,177.4 101.9,175.9 106.0,175.5C110.1,175.1 113.7,175.1 118.0,175.5C122.3,175.9 126.7,176.8 132.0,178.0C137.3,179.2 144.3,181.3 150.0,183.0C155.7,184.7 163.3,187.2 166.0,188.0" fill="none" stroke="#a8a8a8" stroke-width="0.55" marker-mid="url(#ar)"/>
<path d="M60.0,186.0C63.3,185.3 74.2,183.0 80.0,182.0C85.8,181.0 90.7,180.7 95.0,180.0C99.3,179.3 102.2,178.2 106.0,177.8C109.8,177.4 113.7,177.4 118.0,177.8C122.3,178.2 126.7,179.1 132.0,180.5C137.3,181.9 144.3,184.5 150.0,186.5C155.7,188.5 163.3,191.5 166.0,192.5" fill="none" stroke="#a8a8a8" stroke-width="0.55" marker-mid="url(#ar)"/>
<path d="M66.0,192.0C69.2,191.5 79.3,190.2 85.0,189.0C90.7,187.8 95.8,185.7 100.0,184.5C104.2,183.3 106.7,182.4 110.0,182.0C113.3,181.6 116.3,181.7 120.0,182.0C123.7,182.3 127.0,182.5 132.0,184.0C137.0,185.5 144.3,188.5 150.0,191.0C155.7,193.5 163.3,197.7 166.0,199.0" fill="none" stroke="#a8a8a8" stroke-width="0.55" marker-mid="url(#ar)"/>
<path d="M66.0,198.0C69.2,197.8 79.2,197.8 85.0,197.0C90.8,196.2 96.1,194.1 100.6,192.9C105.1,191.7 107.5,190.4 112.0,190.0C116.5,189.6 122.7,190.0 127.7,190.7C132.7,191.4 135.6,192.1 142.0,194.3C148.4,196.5 162.0,202.4 166.0,204.0" fill="none" stroke="#a8a8a8" stroke-width="0.55" marker-mid="url(#ar)"/>
<path d="M95.0,207.0C96.7,206.3 101.9,203.9 105.0,203.0C108.1,202.1 109.9,201.7 113.4,201.4C117.0,201.1 122.2,201.0 126.3,201.4C130.4,201.8 133.7,202.4 138.0,204.0C142.3,205.6 147.4,209.2 152.1,211.2C156.8,213.2 163.7,215.0 166.0,215.8" fill="none" stroke="#a8a8a8" stroke-width="0.55" marker-mid="url(#ar)"/>
<path d="M90.0,212.0C92.2,211.0 99.3,207.2 103.5,206.0C107.7,204.8 111.3,204.8 115.0,205.0C118.7,205.2 122.0,206.0 125.5,207.0C129.0,208.0 131.8,209.0 135.9,211.0C140.0,213.0 144.8,216.7 149.8,219.0C154.8,221.3 163.3,224.1 166.0,225.1" fill="none" stroke="#a8a8a8" stroke-width="0.55" marker-mid="url(#ar)"/>
<path d="M92.0,224.0C92.8,223.4 93.9,222.2 96.6,220.5C99.3,218.8 104.2,214.7 108.1,213.5C111.9,212.3 115.8,212.7 119.7,213.5C123.6,214.3 127.4,216.2 131.3,218.1C135.2,220.0 139.1,222.6 142.9,225.1C146.8,227.6 150.6,231.1 154.4,233.2C158.2,235.3 164.1,237.0 166.0,237.8" fill="none" stroke="#a8a8a8" stroke-width="0.55" marker-mid="url(#ar)"/>
<path d="M85.0,244.0C86.9,243.4 92.8,241.8 96.6,240.5C100.4,239.2 104.2,237.2 108.0,236.4C111.8,235.6 115.8,235.1 119.7,235.4C123.6,235.7 127.4,237.0 131.3,238.2C135.2,239.4 137.1,241.2 142.9,242.8C148.7,244.4 162.2,246.7 166.0,247.5" fill="none" stroke="#a8a8a8" stroke-width="0.55" marker-mid="url(#ar)"/>
<path d="M32.0,238.0C36.7,238.6 52.0,240.8 60.0,241.5C68.0,242.2 73.3,242.2 80.0,242.0C86.7,241.8 91.7,240.0 100.0,240.0C108.3,240.0 119.0,241.0 130.0,242.0C141.0,243.0 160.0,245.3 166.0,246.0" fill="none" stroke="#a8a8a8" stroke-width="0.55" marker-mid="url(#ar)"/>
<path d="M32.0,249.0C36.7,249.5 52.0,251.3 60.0,252.0C68.0,252.7 73.3,253.0 80.0,253.0C86.7,253.0 91.7,252.2 100.0,252.0C108.3,251.8 119.0,251.7 130.0,252.0C141.0,252.3 160.0,253.7 166.0,254.0" fill="none" stroke="#a8a8a8" stroke-width="0.55" marker-mid="url(#ar)"/>
<path d="M32.0,258.0C36.7,258.3 48.7,259.7 60.0,260.0C71.3,260.3 88.3,260.0 100.0,260.0C111.7,260.0 119.0,259.8 130.0,260.0C141.0,260.2 160.0,260.8 166.0,261.0" fill="none" stroke="#a8a8a8" stroke-width="0.55" marker-mid="url(#ar)"/>
</g>
<path d="M33.0,190.0C33.4,188.7 34.7,187.9 36.0,187.2C37.3,186.5 39.3,186.0 41.0,186.0C42.7,186.0 44.3,186.2 46.0,187.0C47.7,187.8 49.7,189.5 51.0,191.0C52.3,192.5 53.2,194.2 54.0,196.0C54.8,197.8 55.6,200.5 55.6,202.0C55.6,203.5 54.9,204.4 54.0,205.0C53.1,205.6 51.3,205.9 50.0,205.6C48.7,205.3 47.3,203.8 46.0,203.0C44.7,202.2 43.5,201.2 42.0,200.5C40.5,199.8 38.4,199.4 37.0,198.5C35.6,197.6 34.5,196.4 33.8,195.0C33.1,193.6 32.6,191.3 33.0,190.0Z" fill="none" stroke="#3cdc3c" stroke-width="1.25" stroke-linejoin="round"/>
<path d="M93.2,167.1C94.3,165.3 96.3,163.8 98.6,162.8C100.9,161.8 104.2,161.3 107.1,161.1C109.9,160.9 112.8,161.2 115.7,161.8C118.6,162.5 121.6,163.4 124.3,165.0C127.0,166.6 129.7,169.1 131.8,171.4C133.9,173.7 135.7,176.4 137.1,178.9C138.5,181.4 139.8,184.1 140.3,186.4C140.8,188.7 141.0,190.7 140.3,192.8C139.6,195.0 137.8,197.2 136.0,199.3C134.2,201.5 131.9,204.1 129.6,205.7C127.3,207.3 125.1,208.3 122.1,208.9C119.1,209.5 114.6,209.7 111.4,209.5C108.2,209.3 104.9,209.0 102.8,207.8C100.7,206.6 99.5,205.0 98.6,202.5C97.7,200.0 98.0,196.2 97.5,192.8C97.0,189.4 96.3,185.3 95.4,182.1C94.5,178.9 92.5,176.1 92.1,173.6C91.7,171.1 92.1,168.9 93.2,167.1Z" fill="none" stroke="#3cdc3c" stroke-width="1.25" stroke-linejoin="round"/>
<path d="M32.0,227.0C33.7,226.0 39.3,226.8 42.0,227.0C44.7,227.2 46.3,228.0 48.0,228.0C49.7,228.0 51.5,228.0 52.0,227.0C52.5,226.0 51.0,223.8 51.0,222.0C51.0,220.2 51.2,217.7 52.0,216.0C52.8,214.3 54.0,213.2 56.0,212.0C58.0,210.8 61.0,209.6 64.0,209.0C67.0,208.4 71.0,208.1 74.0,208.4C77.0,208.7 79.7,209.7 82.0,211.0C84.3,212.3 86.7,213.8 88.0,216.0C89.3,218.2 90.0,221.2 90.0,224.0C90.0,226.8 89.3,230.5 88.0,233.0C86.7,235.5 84.3,237.5 82.0,239.0C79.7,240.5 77.0,241.4 74.0,242.0C71.0,242.6 67.3,242.7 64.0,242.4C60.7,242.1 57.3,240.9 54.0,240.0C50.7,239.1 47.0,238.0 44.0,237.0C41.0,236.0 38.0,234.7 36.0,234.0C34.0,233.3 32.7,234.2 32.0,233.0C31.3,231.8 30.3,228.0 32.0,227.0Z" fill="none" stroke="#3cdc3c" stroke-width="1.25" stroke-linejoin="round"/>
<path d="M156.7,203.4C157.0,202.8 157.8,200.0 158.6,199.5C159.4,199.0 160.5,200.4 161.5,200.5C162.5,200.6 164.1,200.1 164.6,200.0" fill="none" stroke="#3cdc3c" stroke-width="1.25" stroke-linejoin="round"/>
<path d="M156.7,203.4C156.5,204.3 155.8,207.2 155.8,209.1C155.8,211.0 156.1,213.4 156.7,214.8C157.3,216.2 158.6,217.1 159.6,217.7C160.6,218.3 161.6,218.6 162.4,218.6C163.2,218.6 164.2,217.8 164.6,217.7" fill="none" stroke="#3cdc3c" stroke-width="1.25" stroke-linejoin="round"/>
<path d="M164.6,237.7C163.6,237.7 160.2,237.4 158.6,237.7C157.0,238.0 155.6,238.8 154.8,239.6C154.0,240.4 153.7,241.2 153.9,242.5C154.1,243.8 155.3,245.6 155.8,247.3C156.3,249.1 156.4,251.1 156.7,253.0C157.0,254.9 157.4,256.9 157.7,258.7C158.0,260.4 158.9,262.2 158.6,263.5C158.3,264.8 156.8,265.7 155.8,266.3C154.9,266.9 153.4,266.7 152.9,267.3C152.4,267.9 152.9,269.6 152.9,270.0" fill="none" stroke="#3cdc3c" stroke-width="1.25" stroke-linejoin="round"/>
<ellipse cx="151" cy="234.8" rx="1.6" ry="1.2" fill="none" stroke="#3cdc3c" stroke-width="0.9"/>
</g>
<text x="36.4" y="157.2" font-size="10.5">&#966;</text>
<text y="158.5" font-size="10.0"><tspan x="44.0" font-size="11">&#8776;</tspan><tspan x="52.2">12&#960;/5</tspan></text>
<text x="37.0" y="182.0" font-size="9.0" fill="#222"><tspan font-style="italic">A</tspan><tspan font-size="6.3" dy="2">2</tspan></text>
<text x="119.0" y="176.0" font-size="9.0" fill="#222"><tspan font-style="italic">A</tspan><tspan font-size="6.3" dy="2">1</tspan></text>
<text x="67.0" y="250.5" font-size="9.0" fill="#222"><tspan font-style="italic">B</tspan><tspan font-size="6.3" dy="2">1</tspan></text>
<text x="142.4" y="215.5" font-size="9.0" fill="#222"><tspan font-style="italic">B</tspan><tspan font-size="5.6" dy="-3.5" font-style="italic">a</tspan><tspan font-size="6.3" dx="-2.9" dy="6">0</tspan></text>
<text x="142.4" y="254.5" font-size="9.0" fill="#222"><tspan font-style="italic">B</tspan><tspan font-size="5.6" dy="-3.5" font-style="italic">b</tspan><tspan font-size="6.3" dx="-2.9" dy="6">0</tspan></text>
<path d="M57.6,269.7v-3.0M57.6,147.3v3.0M87.3,269.7v-3.0M87.3,147.3v3.0M117.1,269.7v-3.0M117.1,147.3v3.0M146.9,269.7v-3.0M146.9,147.3v3.0M32.2,239.7h3.0M164.6,239.7h-3.0M32.2,209.6h3.0M164.6,209.6h-3.0M32.2,179.5h3.0M164.6,179.5h-3.0M32.2,149.5h3.0M164.6,149.5h-3.0" stroke="#333" stroke-width="0.8" fill="none"/>
<path d="M33.8,269.7v-1.3M33.8,147.3v1.3M39.7,269.7v-1.3M39.7,147.3v1.3M45.7,269.7v-1.3M45.7,147.3v1.3M51.6,269.7v-1.3M51.6,147.3v1.3M63.5,269.7v-1.3M63.5,147.3v1.3M69.5,269.7v-1.3M69.5,147.3v1.3M75.4,269.7v-1.3M75.4,147.3v1.3M81.4,269.7v-1.3M81.4,147.3v1.3M93.3,269.7v-1.3M93.3,147.3v1.3M99.2,269.7v-1.3M99.2,147.3v1.3M105.2,269.7v-1.3M105.2,147.3v1.3M111.2,269.7v-1.3M111.2,147.3v1.3M123.1,269.7v-1.3M123.1,147.3v1.3M129.0,269.7v-1.3M129.0,147.3v1.3M135.0,269.7v-1.3M135.0,147.3v1.3M140.9,269.7v-1.3M140.9,147.3v1.3M152.8,269.7v-1.3M152.8,147.3v1.3M158.8,269.7v-1.3M158.8,147.3v1.3M32.2,263.7h1.3M164.6,263.7h-1.3M32.2,257.7h1.3M164.6,257.7h-1.3M32.2,251.7h1.3M164.6,251.7h-1.3M32.2,245.7h1.3M164.6,245.7h-1.3M32.2,233.6h1.3M164.6,233.6h-1.3M32.2,227.6h1.3M164.6,227.6h-1.3M32.2,221.6h1.3M164.6,221.6h-1.3M32.2,215.6h1.3M164.6,215.6h-1.3M32.2,203.6h1.3M164.6,203.6h-1.3M32.2,197.6h1.3M164.6,197.6h-1.3M32.2,191.6h1.3M164.6,191.6h-1.3M32.2,185.6h1.3M164.6,185.6h-1.3M32.2,173.5h1.3M164.6,173.5h-1.3M32.2,167.5h1.3M164.6,167.5h-1.3M32.2,161.5h1.3M164.6,161.5h-1.3M32.2,155.5h1.3M164.6,155.5h-1.3" stroke="#888" stroke-width="0.5" fill="none"/>
<rect x="32.2" y="147.3" width="132.4" height="122.4" fill="none" stroke="#333" stroke-width="0.9"/>
<text x="57.6" y="278.3" font-size="9.0" text-anchor="middle" fill="#222">1</text>
<text x="87.3" y="278.3" font-size="9.0" text-anchor="middle" fill="#222">2</text>
<text x="117.1" y="278.3" font-size="9.0" text-anchor="middle" fill="#222">3</text>
<text x="146.9" y="278.3" font-size="9.0" text-anchor="middle" fill="#222">4</text>
<text x="29.0" y="152.7" font-size="9.0" text-anchor="end" fill="#222">2</text>
<text x="29.0" y="182.7" font-size="9.0" text-anchor="end" fill="#222">1</text>
<text x="29.0" y="212.8" font-size="9.0" text-anchor="end" fill="#222">0</text>
<text x="29.0" y="242.8" font-size="9.0" text-anchor="end" fill="#222">&#8722;1</text>
<text x="29.0" y="272.9" font-size="9.0" text-anchor="end" fill="#222">&#8722;2</text>
<text x="7.5" y="153.9" font-size="10">(<tspan font-style="italic">c</tspan>)</text>
<g clip-path="url(#c11)"><g filter="url(#sm)">
<path d="M197.0,221.0C199.2,218.4 205.3,220.0 210.0,220.5C214.7,221.0 220.3,223.1 225.0,224.0C229.7,224.9 233.8,226.3 238.0,226.0C242.2,225.7 246.0,223.3 250.0,222.0C254.0,220.7 259.3,218.2 262.0,218.0C264.7,217.8 266.0,219.0 266.0,221.0C266.0,223.0 264.7,227.2 262.0,230.0C259.3,232.8 254.0,236.0 250.0,238.0C246.0,240.0 242.2,241.5 238.0,242.0C233.8,242.5 229.3,241.7 225.0,241.0C220.7,240.3 216.7,238.8 212.0,238.0C207.3,237.2 199.5,238.8 197.0,236.0C194.5,233.2 194.8,223.6 197.0,221.0Z" fill="#fde6da"/>
<path d="M243.0,215.0C243.7,212.0 243.8,211.9 246.0,211.0C248.2,210.1 252.7,209.7 256.0,209.6C259.3,209.5 263.2,209.7 266.0,210.4C268.8,211.1 271.2,212.2 273.0,214.0C274.8,215.8 275.8,218.5 276.5,221.0C277.2,223.5 277.1,226.2 277.0,229.0C276.9,231.8 276.8,235.3 276.0,238.0C275.2,240.7 274.3,243.1 272.0,245.0C269.7,246.9 266.0,248.8 262.0,249.5C258.0,250.2 252.3,250.1 248.0,249.5C243.7,248.9 239.0,247.2 236.0,246.0C233.0,244.8 229.7,243.7 230.0,242.0C230.3,240.3 236.0,238.2 238.0,236.0C240.0,233.8 241.2,232.5 242.0,229.0C242.8,225.5 242.3,218.0 243.0,215.0Z" fill="#fde6da"/>
<path d="M230.0,236.0C231.0,234.5 236.7,232.5 240.0,231.0C243.3,229.5 247.0,228.4 250.0,227.0C253.0,225.6 256.0,223.3 258.0,222.5C260.0,221.7 261.3,221.2 262.0,222.0C262.7,222.8 263.3,225.3 262.0,227.0C260.7,228.7 257.0,230.3 254.0,232.0C251.0,233.7 247.3,235.7 244.0,237.0C240.7,238.3 236.3,240.2 234.0,240.0C231.7,239.8 229.0,237.5 230.0,236.0Z" fill="#fad2bf"/>
<path d="M197.0,222.5C198.3,220.5 202.7,221.8 205.0,222.0C207.3,222.2 209.7,222.8 211.0,224.0C212.3,225.2 212.8,227.2 213.0,229.0C213.2,230.8 213.2,234.0 212.0,235.0C210.8,236.0 208.5,235.2 206.0,235.0C203.5,234.8 198.5,236.1 197.0,234.0C195.5,231.9 195.7,224.5 197.0,222.5Z" fill="#fbd0bb"/>
<path d="M197.0,223.5C198.0,221.9 201.2,223.1 203.0,223.5C204.8,223.9 207.0,224.8 208.0,226.0C209.0,227.2 209.7,229.8 209.0,231.0C208.3,232.2 206.0,232.7 204.0,233.0C202.0,233.3 198.2,234.6 197.0,233.0C195.8,231.4 196.0,225.1 197.0,223.5Z" fill="#f4a582"/>
<ellipse cx="201.0" cy="228.0" rx="4.2" ry="3.0" fill="#d6604d"/>
<ellipse cx="200.3" cy="228.0" rx="2.8" ry="1.9" fill="#b2182b"/>
<path d="M206.0,225.5C207.0,224.7 211.0,226.3 214.0,227.0C217.0,227.7 220.7,228.5 224.0,229.5C227.3,230.5 231.7,231.9 234.0,233.0C236.3,234.1 238.7,235.3 238.0,236.0C237.3,236.7 233.3,237.2 230.0,237.0C226.7,236.8 221.7,235.3 218.0,234.5C214.3,233.7 210.0,233.5 208.0,232.0C206.0,230.5 205.0,226.3 206.0,225.5Z" fill="#f7b9a0"/>
<path d="M206.0,226.5C207.0,226.0 210.7,227.4 213.0,228.0C215.3,228.6 219.8,229.3 220.0,230.0C220.2,230.7 216.2,231.8 214.0,232.0C211.8,232.2 208.3,231.9 207.0,231.0C205.7,230.1 205.0,227.0 206.0,226.5Z" fill="#ee9070"/>
<path d="M197.0,186.5C198.8,184.9 203.5,184.1 208.0,183.5C212.5,182.9 219.0,182.6 224.0,183.0C229.0,183.4 234.0,184.7 238.0,186.0C242.0,187.3 246.7,189.2 248.0,191.0C249.3,192.8 247.7,196.2 246.0,197.0C244.3,197.8 241.0,197.2 238.0,196.0C235.0,194.8 232.0,191.2 228.0,190.0C224.0,188.8 218.7,188.3 214.0,188.5C209.3,188.7 202.8,190.2 200.0,191.0C197.2,191.8 197.5,193.8 197.0,193.0C196.5,192.2 195.2,188.1 197.0,186.5Z" fill="#e4eef8"/>
<path d="M197.0,188.0C198.8,186.8 203.8,186.0 208.0,185.5C212.2,185.0 217.8,184.7 222.0,185.0C226.2,185.3 230.3,186.3 233.0,187.5C235.7,188.7 238.5,191.4 238.0,192.0C237.5,192.6 233.0,191.4 230.0,191.0C227.0,190.6 223.7,189.7 220.0,189.5C216.3,189.3 211.8,189.4 208.0,190.0C204.2,190.6 198.8,193.3 197.0,193.0C195.2,192.7 195.2,189.2 197.0,188.0Z" fill="#c5dcef"/>
<path d="M236.0,192.0C237.3,190.7 243.7,194.2 246.0,196.0C248.3,197.8 250.3,201.0 250.0,203.0C249.7,205.0 246.0,207.8 244.0,208.0C242.0,208.2 239.3,206.7 238.0,204.0C236.7,201.3 234.7,193.3 236.0,192.0Z" fill="#e4eef8"/>
<path d="M287.5,168.0C289.0,166.2 293.9,167.1 298.0,167.0C302.1,166.9 307.5,166.8 312.0,167.5C316.5,168.2 322.8,168.8 325.0,171.0C327.2,173.2 326.2,178.4 325.0,181.0C323.8,183.6 321.8,185.5 318.0,186.5C314.2,187.5 306.3,187.2 302.0,187.0C297.7,186.8 294.2,186.5 292.0,185.0C289.8,183.5 289.8,180.8 289.0,178.0C288.2,175.2 286.0,169.8 287.5,168.0Z" fill="#e4eef8"/>
<path d="M285.7,201.0C286.2,199.4 289.3,199.7 291.0,200.0C292.7,200.3 294.5,201.8 296.0,203.0C297.5,204.2 300.0,205.8 300.0,207.0C300.0,208.2 298.0,209.6 296.0,210.0C294.0,210.4 289.7,211.0 288.0,209.5C286.3,208.0 285.2,202.6 285.7,201.0Z" fill="#e4eef8"/>
<path d="M296.0,204.0C297.3,202.8 303.3,203.2 306.0,204.0C308.7,204.8 312.0,207.7 312.0,209.0C312.0,210.3 308.3,211.7 306.0,212.0C303.7,212.3 299.7,212.3 298.0,211.0C296.3,209.7 294.7,205.2 296.0,204.0Z" fill="#eef4fa"/>
<path d="M197.0,196.0C197.8,192.2 201.8,192.5 204.0,192.0C206.2,191.5 209.6,191.7 210.0,193.0C210.4,194.3 206.7,197.7 206.5,200.0C206.3,202.3 207.1,205.2 209.0,207.0C210.9,208.8 214.5,210.8 218.0,211.0C221.5,211.2 226.8,209.7 230.0,208.0C233.2,206.3 236.0,200.8 237.0,201.0C238.0,201.2 237.7,206.7 236.0,209.0C234.3,211.3 231.2,213.7 227.0,215.0C222.8,216.3 215.7,217.0 211.0,217.0C206.3,217.0 201.3,218.5 199.0,215.0C196.7,211.5 196.2,199.8 197.0,196.0Z" fill="#d6d6d6" fill-opacity="0.8"/>
<path d="M199.4,203.7h0.7M198.5,201.7h0.7M214.4,212.3h0.7M202.1,196.0h0.7M222.7,215.6h0.7M209.6,212.0h0.7M204.4,205.7h0.7M229.6,208.9h0.7M207.0,205.5h0.7M218.5,213.6h0.7M214.1,210.4h0.7M203.2,203.2h0.7M198.6,208.0h0.7M232.9,198.5h0.7M199.5,208.9h0.7M197.9,202.5h0.7M202.3,196.7h0.7M213.0,213.5h0.7M200.3,202.1h0.7M219.5,213.9h0.7M211.7,213.9h0.7M204.2,196.3h0.7M197.2,201.3h0.7M201.2,207.1h0.7M201.2,199.8h0.7M218.7,216.4h0.7M232.4,208.8h0.7M203.8,210.8h0.7M218.8,211.0h0.7M232.0,211.8h0.7M230.6,210.0h0.7M206.3,204.0h0.7M198.1,197.5h0.7M207.6,208.7h0.7M236.2,202.1h0.7M236.2,199.8h0.7M206.0,196.1h0.7M222.6,214.3h0.7M223.8,211.6h0.7M200.5,207.8h0.7M204.3,211.3h0.7M210.6,211.6h0.7M236.8,200.7h0.7M213.5,215.6h0.7M203.0,212.3h0.7M218.6,215.2h0.7M214.8,213.5h0.7M206.9,205.8h0.7M220.9,214.4h0.7M214.2,214.8h0.7M204.1,202.8h0.7M219.8,211.2h0.7M201.4,205.1h0.7M234.4,202.0h0.7M216.6,215.4h0.7M225.7,213.7h0.7M235.6,197.0h0.7M219.9,215.5h0.7M202.0,201.9h0.7M200.0,196.5h0.7M200.0,208.1h0.7M203.3,209.3h0.7M203.6,201.7h0.7M205.0,198.6h0.7" stroke="#666" stroke-width="0.7" fill="none"/>
<ellipse cx="219.0" cy="200.0" rx="13.3" ry="9.6" fill="#b3d3ec" transform="rotate(8 219.0 200.0)"/>
<ellipse cx="218.7" cy="199.8" rx="10.5" ry="7.8" fill="#86b7de" transform="rotate(8 218.7 199.8)"/>
<ellipse cx="218.3" cy="199.6" rx="7.0" ry="5.8" fill="#6ca5d5" transform="rotate(5 218.3 199.6)"/>
<ellipse cx="218.0" cy="199.4" rx="3.8" ry="3.2" fill="#5290c9"/>
<ellipse cx="219.1" cy="200.1" rx="13.9" ry="10.1" fill="none" stroke="#383838" stroke-width="1.30" transform="rotate(8 219.1 200.1)"/>
<path d="M197,190 C205,185.5 220,184.5 229,187 C236,190 239,196 237.5,202 C235,210 225,215 212,216.5 C204,217 199,214 197,211" fill="none" stroke="#333" stroke-width="1.3"/>
<ellipse cx="216.0" cy="201.5" rx="17.2" ry="12.0" fill="none" stroke="#999" stroke-width="0.42"/>
<ellipse cx="216.0" cy="201.5" rx="20.7" ry="14.4" fill="none" stroke="#999" stroke-width="0.42"/>
<ellipse cx="216.0" cy="201.5" rx="24.7" ry="17.2" fill="none" stroke="#999" stroke-width="0.42"/>
<ellipse cx="218.3" cy="199.5" rx="3.6" ry="3.0" fill="none" stroke="#8aa" stroke-width="0.40"/>
<ellipse cx="218.3" cy="199.5" rx="6.6" ry="5.5" fill="none" stroke="#8aa" stroke-width="0.40"/>
<ellipse cx="218.3" cy="199.5" rx="9.6" ry="8.0" fill="none" stroke="#8aa" stroke-width="0.40"/>
<ellipse cx="218.0" cy="199.3" rx="1.2" ry="1.2" fill="#222"/>
<path d="M197.0,162.2C204.2,162.0 224.5,161.0 240.0,160.9C255.5,160.8 275.0,161.6 290.0,161.4C305.0,161.2 323.3,159.8 330.0,159.5" fill="none" stroke="#a8a8a8" stroke-width="0.55" marker-mid="url(#ar)"/>
<path d="M197.0,170.4C204.2,170.3 227.8,169.4 240.0,169.6C252.2,169.8 260.0,171.3 270.0,171.7C280.0,172.0 290.0,172.0 300.0,171.7C310.0,171.3 325.0,169.9 330.0,169.6" fill="none" stroke="#a8a8a8" stroke-width="0.55" marker-mid="url(#ar)"/>
<path d="M230.0,177.0C233.3,177.2 243.3,177.5 250.0,178.0C256.7,178.5 261.7,179.7 270.0,179.9C278.3,180.1 290.0,179.8 300.0,179.3C310.0,178.9 325.0,177.5 330.0,177.2" fill="none" stroke="#a8a8a8" stroke-width="0.55" marker-mid="url(#ar)"/>
<path d="M238.0,186.0C240.0,186.5 245.5,187.8 250.0,189.0C254.5,190.2 259.2,192.7 265.0,193.5C270.8,194.3 277.5,194.4 285.0,194.0C292.5,193.6 302.5,191.8 310.0,190.8C317.5,189.8 326.7,188.5 330.0,188.0" fill="none" stroke="#a8a8a8" stroke-width="0.55" marker-mid="url(#ar)"/>
<path d="M242.0,194.0C244.2,194.5 250.3,195.9 255.0,197.0C259.7,198.1 262.5,199.5 270.0,200.3C277.5,201.1 290.0,201.8 300.0,201.6C310.0,201.4 325.0,199.3 330.0,198.9" fill="none" stroke="#a8a8a8" stroke-width="0.55" marker-mid="url(#ar)"/>
<path d="M244.0,202.0C246.7,202.5 254.0,203.9 260.0,205.0C266.0,206.1 268.3,207.8 280.0,208.4C291.7,209.0 321.7,208.4 330.0,208.4" fill="none" stroke="#a8a8a8" stroke-width="0.55" marker-mid="url(#ar)"/>
<path d="M236.0,188.0C237.2,189.0 241.7,191.7 243.0,194.0C244.3,196.3 244.5,199.3 244.0,202.0C243.5,204.7 240.7,208.7 240.0,210.0" fill="none" stroke="#a8a8a8" stroke-width="0.55" marker-mid="url(#ar)"/>
<path d="M240.0,210.0C243.0,210.7 252.2,212.7 258.0,214.0C263.8,215.3 269.0,217.7 275.0,218.0C281.0,218.3 284.8,215.8 294.0,216.0C303.2,216.2 324.0,218.5 330.0,219.0" fill="none" stroke="#a8a8a8" stroke-width="0.55" marker-mid="url(#ar)"/>
<path d="M235.0,216.0C237.5,217.0 245.0,219.2 250.0,222.0C255.0,224.8 260.8,231.3 265.0,233.0C269.2,234.7 270.8,233.0 275.0,232.0C279.2,231.0 284.8,228.3 290.0,227.0C295.2,225.7 301.3,224.2 306.0,224.0C310.7,223.8 314.0,225.0 318.0,226.0C322.0,227.0 328.0,229.3 330.0,230.0" fill="none" stroke="#a8a8a8" stroke-width="0.55" marker-mid="url(#ar)"/>
<path d="M197.0,246.0C204.2,246.5 227.8,249.5 240.0,249.0C252.2,248.5 261.3,244.7 270.0,243.0C278.7,241.3 285.3,240.0 292.0,239.0C298.7,238.0 303.7,236.8 310.0,237.0C316.3,237.2 326.7,239.5 330.0,240.0" fill="none" stroke="#a8a8a8" stroke-width="0.55" marker-mid="url(#ar)"/>
<path d="M197.0,253.0C204.2,253.5 229.5,255.8 240.0,256.0C250.5,256.2 253.3,254.7 260.0,254.0C266.7,253.3 274.0,252.7 280.0,252.0C286.0,251.3 290.3,250.4 296.0,250.0C301.7,249.6 308.3,249.2 314.0,249.4C319.7,249.6 327.3,250.7 330.0,251.0" fill="none" stroke="#a8a8a8" stroke-width="0.55" marker-mid="url(#ar)"/>
<path d="M197.0,258.0C204.2,258.5 229.5,260.5 240.0,261.0C250.5,261.5 253.3,261.3 260.0,261.0C266.7,260.7 273.3,260.0 280.0,259.4C286.7,258.8 291.7,257.6 300.0,257.4C308.3,257.2 325.0,257.9 330.0,258.0" fill="none" stroke="#a8a8a8" stroke-width="0.55" marker-mid="url(#ar)"/>
</g>
<path d="M197,193 C200,188 206,185 212,184.3 C220,183.5 227,185 230,189 C232,194 232,200 230,205 C228,208 226,209 225,209" fill="none" stroke="#3cdc3c" stroke-width="1.1"/>
<path d="M209,196 C207.5,199 208,203 211,206" fill="none" stroke="#3cdc3c" stroke-width="1"/>
<path d="M197.0,223.0C197.7,221.2 199.3,222.3 201.0,222.0C202.7,221.7 205.3,220.8 207.0,221.0C208.7,221.2 210.0,221.7 211.0,223.0C212.0,224.3 212.7,226.8 213.0,229.0C213.3,231.2 213.5,234.5 213.0,236.0C212.5,237.5 211.3,237.8 210.0,238.0C208.7,238.2 207.2,237.8 205.0,237.0C202.8,236.2 198.3,235.3 197.0,233.0C195.7,230.7 196.3,224.8 197.0,223.0Z" fill="none" stroke="#3cdc3c" stroke-width="1.25" stroke-linejoin="round"/>
<path d="M243.0,215.6C243.3,214.5 242.9,213.1 243.9,212.2C244.9,211.3 246.7,210.8 249.0,210.4C251.3,210.0 254.7,209.6 257.6,209.6C260.5,209.6 263.6,209.7 266.2,210.4C268.8,211.1 271.3,212.2 273.0,213.9C274.7,215.6 275.8,218.1 276.5,220.7C277.2,223.3 277.3,226.4 277.3,229.3C277.3,232.2 277.2,235.3 276.5,237.9C275.8,240.5 274.4,243.0 273.0,244.7C271.6,246.4 270.2,247.3 267.9,248.2C265.6,249.1 262.2,249.6 259.3,249.9C256.4,250.2 253.8,250.2 250.7,249.9C247.5,249.6 243.5,248.9 240.4,248.2C237.3,247.5 233.9,246.6 231.9,245.6C229.9,244.6 228.4,243.0 228.4,242.2C228.4,241.3 230.2,241.4 231.9,240.5C233.6,239.6 237.0,238.4 238.7,237.0C240.4,235.6 241.5,233.9 242.2,231.9C242.9,229.9 243.0,227.2 243.0,225.0C243.0,222.8 242.2,220.6 242.2,219.0C242.2,217.4 242.7,216.7 243.0,215.6Z" fill="none" stroke="#3cdc3c" stroke-width="1.25" stroke-linejoin="round"/>
<path d="M330.0,165.0C329.2,165.2 326.2,166.2 325.1,165.9C324.0,165.6 323.8,164.4 323.3,163.2C322.9,162.0 323.3,160.2 322.4,158.7C321.5,157.2 319.8,155.3 317.9,154.3C316.0,153.3 313.2,152.9 310.8,152.5C308.4,152.1 305.4,151.5 303.6,151.6C301.8,151.7 301.5,152.8 300.0,153.0C298.5,153.2 296.8,152.8 294.7,153.0C292.6,153.2 289.4,153.5 287.5,154.3C285.6,155.1 284.0,156.5 283.0,157.8C282.0,159.1 281.2,160.7 281.3,162.3C281.4,164.0 282.9,165.9 283.9,167.7C284.9,169.5 286.6,170.9 287.5,173.0C288.4,175.1 288.9,177.9 289.3,180.2C289.8,182.4 289.6,184.7 290.2,186.5C290.8,188.3 292.8,189.7 292.9,190.9C293.0,192.1 292.3,193.0 291.1,193.6C289.9,194.2 287.1,193.8 285.7,194.5C284.3,195.2 283.4,196.6 283.0,198.1C282.6,199.6 282.7,201.7 283.0,203.5C283.3,205.3 283.8,207.3 284.8,208.8C285.9,210.3 287.1,211.4 289.3,212.4C291.6,213.4 295.0,214.3 298.3,215.1C301.6,215.8 305.7,216.2 309.0,216.9C312.3,217.7 315.2,219.0 317.9,219.6C320.6,220.2 323.3,220.9 325.1,220.5C326.9,220.1 327.9,217.8 328.7,216.9C329.5,216.0 329.8,215.3 330.0,215.0" fill="none" stroke="#3cdc3c" stroke-width="1.25" stroke-linejoin="round"/>
<path d="M301.8,195.4C302.1,195.1 302.1,194.1 303.6,193.6C305.1,193.1 308.4,193.1 310.8,192.7C313.2,192.2 316.1,190.9 317.9,190.9C319.7,190.9 320.3,192.5 321.5,192.7C322.7,192.8 323.7,191.8 325.1,191.8C326.5,191.9 329.2,192.8 330.0,193.0" fill="none" stroke="#3cdc3c" stroke-width="1.25" stroke-linejoin="round"/>
<path d="M301.8,195.4C301.8,195.6 300.3,196.2 301.8,196.3C303.3,196.5 307.8,196.5 310.8,196.3C313.8,196.2 317.0,195.2 319.7,195.4C322.4,195.6 325.4,196.1 326.9,197.2C328.4,198.2 328.5,200.4 328.7,201.7C328.9,203.0 327.6,204.3 327.8,205.2C328.0,206.1 329.6,206.7 330.0,207.0" fill="none" stroke="#3cdc3c" stroke-width="1.25" stroke-linejoin="round"/>
<path d="M330.0,160.0C329.5,160.3 327.3,161.0 327.0,162.0C326.7,163.0 327.5,165.0 328.0,166.0C328.5,167.0 329.7,167.7 330.0,168.0" fill="none" stroke="#3cdc3c" stroke-width="1.25" stroke-linejoin="round"/>
</g>
<text x="199.4" y="157.2" font-size="10.5">&#966;</text>
<text y="158.5" font-size="10.0"><tspan x="207.0" font-size="11">&#8776;</tspan><tspan x="215.2">29&#960;/10</tspan></text>
<text x="216.0" y="181.5" font-size="9.0" fill="#222"><tspan font-style="italic">A</tspan><tspan font-size="6.3" dy="2">2</tspan></text>
<text x="204.0" y="238.0" font-size="9.0" fill="#222"><tspan font-style="italic">B</tspan><tspan font-size="6.3" dy="2">2</tspan></text>
<text x="264.5" y="232.0" font-size="9.0" fill="#222"><tspan font-style="italic">B</tspan><tspan font-size="6.3" dy="2">1</tspan></text>
<text x="299.2" y="169.5" font-size="9.0" fill="#222"><tspan font-style="italic">A</tspan><tspan font-size="5.6" dy="-3.5" font-style="italic">b</tspan><tspan font-size="6.3" dx="-2.9" dy="6">1</tspan></text>
<text x="296.5" y="212.5" font-size="9.0" fill="#222"><tspan font-style="italic">A</tspan><tspan font-size="5.6" dy="-3.5" font-style="italic">a</tspan><tspan font-size="6.3" dx="-2.9" dy="6">1</tspan></text>
<path d="M222.4,269.7v-3.0M222.4,147.3v3.0M252.1,269.7v-3.0M252.1,147.3v3.0M281.9,269.7v-3.0M281.9,147.3v3.0M311.7,269.7v-3.0M311.7,147.3v3.0M197.0,239.7h3.0M329.4,239.7h-3.0M197.0,209.6h3.0M329.4,209.6h-3.0M197.0,179.5h3.0M329.4,179.5h-3.0M197.0,149.5h3.0M329.4,149.5h-3.0" stroke="#333" stroke-width="0.8" fill="none"/>
<path d="M198.6,269.7v-1.3M198.6,147.3v1.3M204.5,269.7v-1.3M204.5,147.3v1.3M210.5,269.7v-1.3M210.5,147.3v1.3M216.4,269.7v-1.3M216.4,147.3v1.3M228.3,269.7v-1.3M228.3,147.3v1.3M234.3,269.7v-1.3M234.3,147.3v1.3M240.2,269.7v-1.3M240.2,147.3v1.3M246.2,269.7v-1.3M246.2,147.3v1.3M258.1,269.7v-1.3M258.1,147.3v1.3M264.0,269.7v-1.3M264.0,147.3v1.3M270.0,269.7v-1.3M270.0,147.3v1.3M276.0,269.7v-1.3M276.0,147.3v1.3M287.9,269.7v-1.3M287.9,147.3v1.3M293.8,269.7v-1.3M293.8,147.3v1.3M299.8,269.7v-1.3M299.8,147.3v1.3M305.7,269.7v-1.3M305.7,147.3v1.3M317.6,269.7v-1.3M317.6,147.3v1.3M323.6,269.7v-1.3M323.6,147.3v1.3M197.0,263.7h1.3M329.4,263.7h-1.3M197.0,257.7h1.3M329.4,257.7h-1.3M197.0,251.7h1.3M329.4,251.7h-1.3M197.0,245.7h1.3M329.4,245.7h-1.3M197.0,233.6h1.3M329.4,233.6h-1.3M197.0,227.6h1.3M329.4,227.6h-1.3M197.0,221.6h1.3M329.4,221.6h-1.3M197.0,215.6h1.3M329.4,215.6h-1.3M197.0,203.6h1.3M329.4,203.6h-1.3M197.0,197.6h1.3M329.4,197.6h-1.3M197.0,191.6h1.3M329.4,191.6h-1.3M197.0,185.6h1.3M329.4,185.6h-1.3M197.0,173.5h1.3M329.4,173.5h-1.3M197.0,167.5h1.3M329.4,167.5h-1.3M197.0,161.5h1.3M329.4,161.5h-1.3M197.0,155.5h1.3M329.4,155.5h-1.3" stroke="#888" stroke-width="0.5" fill="none"/>
<rect x="197.0" y="147.3" width="132.4" height="122.4" fill="none" stroke="#333" stroke-width="0.9"/>
<text x="222.4" y="278.3" font-size="9.0" text-anchor="middle" fill="#222">1</text>
<text x="252.1" y="278.3" font-size="9.0" text-anchor="middle" fill="#222">2</text>
<text x="281.9" y="278.3" font-size="9.0" text-anchor="middle" fill="#222">3</text>
<text x="311.7" y="278.3" font-size="9.0" text-anchor="middle" fill="#222">4</text>
<text x="193.8" y="152.7" font-size="9.0" text-anchor="end" fill="#222">2</text>
<text x="193.8" y="182.7" font-size="9.0" text-anchor="end" fill="#222">1</text>
<text x="193.8" y="212.8" font-size="9.0" text-anchor="end" fill="#222">0</text>
<text x="193.8" y="242.8" font-size="9.0" text-anchor="end" fill="#222">&#8722;1</text>
<text x="193.8" y="272.9" font-size="9.0" text-anchor="end" fill="#222">&#8722;2</text>
<text x="173.5" y="153.9" font-size="10">(<tspan font-style="italic">d</tspan>)</text>
<g clip-path="url(#c20)"><g filter="url(#sm)">
<path d="M32.0,358.0C33.3,355.2 37.3,356.2 40.0,356.0C42.7,355.8 45.3,356.0 48.0,357.0C50.7,358.0 53.0,360.2 56.0,362.0C59.0,363.8 62.0,366.2 66.0,368.0C70.0,369.8 75.7,371.3 80.0,373.0C84.3,374.7 88.7,376.3 92.0,378.0C95.3,379.7 98.0,381.2 100.0,383.0C102.0,384.8 105.3,388.2 104.0,389.0C102.7,389.8 96.3,389.0 92.0,388.0C87.7,387.0 82.7,384.5 78.0,383.0C73.3,381.5 68.7,380.2 64.0,379.0C59.3,377.8 54.0,376.8 50.0,376.0C46.0,375.2 43.0,374.5 40.0,374.0C37.0,373.5 33.3,375.7 32.0,373.0C30.7,370.3 30.7,360.8 32.0,358.0Z" fill="#fde6da"/>
<path d="M86.0,353.0C88.7,350.9 95.2,349.7 100.0,349.5C104.8,349.3 111.5,350.2 115.0,352.0C118.5,353.8 119.8,356.7 121.0,360.0C122.2,363.3 122.7,368.3 122.0,372.0C121.3,375.7 118.8,379.2 117.0,382.0C115.2,384.8 113.8,387.5 111.0,389.0C108.2,390.5 103.8,391.0 100.0,391.0C96.2,391.0 91.5,390.0 88.0,389.0C84.5,388.0 79.7,387.5 79.0,385.0C78.3,382.5 83.2,377.8 84.0,374.0C84.8,370.2 83.7,365.5 84.0,362.0C84.3,358.5 83.3,355.1 86.0,353.0Z" fill="#fde6da"/>
<path d="M62.0,372.0C63.5,371.7 70.7,374.5 75.0,376.0C79.3,377.5 84.2,379.5 88.0,381.0C91.8,382.5 97.0,383.8 98.0,385.0C99.0,386.2 97.0,388.2 94.0,388.0C91.0,387.8 84.7,385.7 80.0,384.0C75.3,382.3 69.0,380.0 66.0,378.0C63.0,376.0 60.5,372.3 62.0,372.0Z" fill="#fbd6c4"/>
<path d="M96.0,366.0C97.0,364.5 101.3,364.3 103.0,365.0C104.7,365.7 106.0,368.3 106.0,370.0C106.0,371.7 104.5,374.3 103.0,375.0C101.5,375.7 98.2,375.5 97.0,374.0C95.8,372.5 95.0,367.5 96.0,366.0Z" fill="#f9c9b2"/>
<path d="M32.0,360.0C33.3,357.8 37.3,358.5 40.0,358.5C42.7,358.5 45.8,358.8 48.0,360.0C50.2,361.2 52.8,364.0 53.0,366.0C53.2,368.0 51.2,370.8 49.0,372.0C46.8,373.2 42.8,373.0 40.0,373.0C37.2,373.0 33.3,374.2 32.0,372.0C30.7,369.8 30.7,362.2 32.0,360.0Z" fill="#fbd0bb"/>
<path d="M32.0,361.5C33.0,359.8 35.8,360.4 38.0,360.5C40.2,360.6 43.2,361.1 45.0,362.0C46.8,362.9 48.8,364.7 49.0,366.0C49.2,367.3 47.8,369.1 46.0,370.0C44.2,370.9 40.3,371.3 38.0,371.5C35.7,371.7 33.0,372.7 32.0,371.0C31.0,369.3 31.0,363.2 32.0,361.5Z" fill="#f4a582"/>
<ellipse cx="39.0" cy="366.5" rx="9.0" ry="5.0" fill="#d6604d" transform="rotate(-20 39.0 366.5)"/>
<ellipse cx="38.5" cy="366.8" rx="7.0" ry="3.8" fill="#c01a2a" transform="rotate(-20 38.5 366.8)"/>
<path d="M32.0,327.0C33.3,324.5 36.2,323.5 40.0,322.0C43.8,320.5 50.0,318.5 55.0,318.0C60.0,317.5 65.8,317.8 70.0,319.0C74.2,320.2 77.3,322.5 80.0,325.0C82.7,327.5 85.2,330.7 86.0,334.0C86.8,337.3 86.7,341.8 85.0,345.0C83.3,348.2 80.2,351.2 76.0,353.0C71.8,354.8 64.8,356.0 60.0,356.0C55.2,356.0 49.8,354.7 47.0,353.0C44.2,351.3 43.8,348.5 43.0,346.0C42.2,343.5 43.8,339.5 42.0,338.0C40.2,336.5 33.7,338.8 32.0,337.0C30.3,335.2 30.7,329.5 32.0,327.0Z" fill="#e4eef8"/>
<path d="M137.0,304.0C138.7,301.1 145.3,302.7 150.0,302.5C154.7,302.3 162.5,299.2 165.0,303.0C167.5,306.8 167.5,321.2 165.0,325.0C162.5,328.8 154.2,326.8 150.0,326.0C145.8,325.2 142.2,323.7 140.0,320.0C137.8,316.3 135.3,306.9 137.0,304.0Z" fill="#e4eef8"/>
<path d="M134.0,342.0C135.3,340.7 141.7,340.5 144.0,341.0C146.3,341.5 147.8,343.5 148.0,345.0C148.2,346.5 147.0,349.3 145.0,350.0C143.0,350.7 137.8,350.3 136.0,349.0C134.2,347.7 132.7,343.3 134.0,342.0Z" fill="#e4eef8"/>
<path d="M32.0,328.0C33.3,326.2 36.7,325.4 40.0,324.5C43.3,323.6 48.0,322.8 52.0,322.5C56.0,322.2 60.7,322.1 64.0,323.0C67.3,323.9 70.2,325.5 72.0,328.0C73.8,330.5 75.0,334.8 75.0,338.0C75.0,341.2 73.8,344.7 72.0,347.0C70.2,349.3 67.0,351.1 64.0,352.0C61.0,352.9 56.8,353.0 54.0,352.5C51.2,352.0 48.5,350.9 47.0,349.0C45.5,347.1 45.3,343.5 45.0,341.0C44.7,338.5 45.8,335.3 45.0,334.0C44.2,332.7 42.2,332.8 40.0,333.0C37.8,333.2 33.3,335.8 32.0,335.0C30.7,334.2 30.7,329.8 32.0,328.0Z" fill="#c5dcef"/>
<path d="M32.0,328.5C33.3,327.2 37.0,326.5 40.0,326.0C43.0,325.5 46.7,325.3 50.0,325.5C53.3,325.7 59.2,326.3 60.0,327.0C60.8,327.7 57.3,328.9 55.0,329.5C52.7,330.1 48.5,330.1 46.0,330.5C43.5,330.9 42.3,331.4 40.0,332.0C37.7,332.6 33.3,334.6 32.0,334.0C30.7,333.4 30.7,329.8 32.0,328.5Z" fill="#6fa6d4"/>
<path d="M32.0,329.0C32.8,328.2 35.2,328.1 37.0,328.0C38.8,327.9 42.5,328.0 43.0,328.5C43.5,329.0 41.8,330.2 40.0,331.0C38.2,331.8 33.3,333.3 32.0,333.0C30.7,332.7 31.2,329.8 32.0,329.0Z" fill="#4a8cc6"/>
<ellipse cx="58.0" cy="340.0" rx="11.5" ry="9.0" fill="#a8cbe8" transform="rotate(8 58.0 340.0)"/>
<path d="M33.0,329.5C35.0,329.0 40.8,327.0 45.0,326.5C49.2,326.0 54.3,325.9 58.0,326.5C61.7,327.1 64.8,328.2 67.0,330.0C69.2,331.8 70.7,334.7 71.0,337.0C71.3,339.3 70.5,342.2 69.0,344.0C67.5,345.8 64.5,347.5 62.0,348.0C59.5,348.5 56.2,348.0 54.0,347.0C51.8,346.0 49.7,343.8 49.0,342.0C48.3,340.2 48.8,337.5 50.0,336.0C51.2,334.5 53.8,333.2 56.0,333.0C58.2,332.8 61.5,333.8 63.0,335.0C64.5,336.2 65.3,338.5 65.0,340.0C64.7,341.5 62.5,343.5 61.0,344.0C59.5,344.5 56.8,343.2 56.0,343.0" fill="none" stroke="#7fb1da" stroke-width="3.6" stroke-linecap="round"/>
<ellipse cx="57.5" cy="340.0" rx="5.5" ry="4.3" fill="#8cbbe0" transform="rotate(8 57.5 340.0)"/>
<ellipse cx="57.2" cy="340.0" rx="3.0" ry="2.4" fill="#6a9fd0" transform="rotate(8 57.2 340.0)"/>
<ellipse cx="57.5" cy="340.0" rx="3.0" ry="2.2" fill="none" stroke="#7e7e7e" stroke-width="0.48" transform="rotate(5 57.5 340.0)"/>
<ellipse cx="57.5" cy="340.0" rx="5.4" ry="4.0" fill="none" stroke="#7e7e7e" stroke-width="0.48" transform="rotate(5 57.5 340.0)"/>
<ellipse cx="57.5" cy="340.0" rx="8.2" ry="6.0" fill="none" stroke="#7e7e7e" stroke-width="0.48" transform="rotate(5 57.5 340.0)"/>
<ellipse cx="57.5" cy="340.0" rx="11.0" ry="8.1" fill="none" stroke="#7e7e7e" stroke-width="0.48" transform="rotate(5 57.5 340.0)"/>
<ellipse cx="57.5" cy="340.0" rx="14.4" ry="10.6" fill="none" stroke="#7e7e7e" stroke-width="0.48" transform="rotate(5 57.5 340.0)"/>
<ellipse cx="57.5" cy="340.0" rx="18.0" ry="13.2" fill="none" stroke="#7e7e7e" stroke-width="0.48" transform="rotate(5 57.5 340.0)"/>
<ellipse cx="57.5" cy="340.0" rx="21.6" ry="15.8" fill="none" stroke="#7e7e7e" stroke-width="0.48" transform="rotate(5 57.5 340.0)"/>
<ellipse cx="57.1" cy="339.9" rx="1.1" ry="1.1" fill="#333"/>
<path d="M32.0,306.0C35.0,305.7 43.7,304.5 50.0,304.0C56.3,303.5 62.5,303.0 70.0,303.0C77.5,303.0 87.5,303.9 95.0,304.0C102.5,304.1 108.3,303.7 115.0,303.4C121.7,303.1 126.5,302.7 135.0,302.0C143.5,301.3 160.8,299.5 166.0,299.0" fill="none" stroke="#a8a8a8" stroke-width="0.55" marker-mid="url(#ar)"/>
<path d="M32.0,317.0C35.0,316.5 43.7,314.7 50.0,314.0C56.3,313.3 61.7,312.8 70.0,313.0C78.3,313.2 92.5,314.8 100.0,315.0C107.5,315.2 109.2,314.8 115.0,314.0C120.8,313.2 126.5,311.3 135.0,310.0C143.5,308.7 160.8,306.7 166.0,306.0" fill="none" stroke="#a8a8a8" stroke-width="0.55" marker-mid="url(#ar)"/>
<path d="M70.0,320.0C72.5,321.0 80.8,323.7 85.0,326.0C89.2,328.3 91.3,332.7 95.0,334.0C98.7,335.3 103.0,334.7 107.0,334.0C111.0,333.3 115.0,331.3 119.0,330.0C123.0,328.7 127.0,327.5 131.0,326.0C135.0,324.5 137.2,322.5 143.0,321.0C148.8,319.5 162.2,317.7 166.0,317.0" fill="none" stroke="#a8a8a8" stroke-width="0.55" marker-mid="url(#ar)"/>
<path d="M78.0,342.0C79.7,342.7 84.3,345.2 88.0,346.0C91.7,346.8 95.2,347.0 100.0,347.0C104.8,347.0 111.8,346.7 117.0,346.0C122.2,345.3 126.3,344.0 131.0,343.0C135.7,342.0 139.2,340.8 145.0,340.0C150.8,339.2 162.5,338.3 166.0,338.0" fill="none" stroke="#a8a8a8" stroke-width="0.55" marker-mid="url(#ar)"/>
<path d="M72.9,355.0C75.3,354.3 81.9,351.4 87.1,350.7C92.3,350.0 99.0,349.8 104.3,350.7C109.5,351.6 114.3,354.5 118.6,356.4C122.9,358.3 125.6,361.4 130.0,362.0C134.4,362.6 139.0,361.0 145.0,360.0C151.0,359.0 162.5,356.7 166.0,356.0" fill="none" stroke="#a8a8a8" stroke-width="0.55" marker-mid="url(#ar)"/>
<path d="M58.6,362.0C62.4,361.8 73.8,360.7 81.4,360.7C89.0,360.7 97.6,360.8 104.3,362.0C111.0,363.2 116.3,366.6 121.4,367.9C126.5,369.2 127.6,370.3 135.0,370.0C142.4,369.7 160.8,366.7 166.0,366.0" fill="none" stroke="#a8a8a8" stroke-width="0.55" marker-mid="url(#ar)"/>
<path d="M61.4,370.7C65.7,370.9 79.0,371.4 87.1,372.1C95.2,372.8 102.8,373.8 110.0,375.0C117.2,376.2 123.3,378.8 130.0,379.3C136.7,379.8 144.0,378.7 150.0,378.0C156.0,377.3 163.3,375.5 166.0,375.0" fill="none" stroke="#a8a8a8" stroke-width="0.55" marker-mid="url(#ar)"/>
<path d="M35.7,376.4C39.5,377.3 50.0,380.4 58.6,382.1C67.2,383.8 78.5,385.4 87.1,386.4C95.7,387.4 102.8,387.9 110.0,387.9C117.2,387.9 123.3,387.0 130.0,386.4C136.7,385.8 144.0,384.7 150.0,384.0C156.0,383.3 163.3,382.3 166.0,382.0" fill="none" stroke="#a8a8a8" stroke-width="0.55" marker-mid="url(#ar)"/>
<path d="M32.0,396.4C40.0,396.6 63.7,397.9 80.0,397.9C96.3,397.9 115.7,396.9 130.0,396.4C144.3,395.9 160.0,395.2 166.0,395.0" fill="none" stroke="#a8a8a8" stroke-width="0.55" marker-mid="url(#ar)"/>
<path d="M32.0,403.0C40.0,403.2 63.7,403.9 80.0,404.0C96.3,404.1 115.7,403.8 130.0,403.5C144.3,403.2 160.0,402.2 166.0,402.0" fill="none" stroke="#a8a8a8" stroke-width="0.55" marker-mid="url(#ar)"/>
</g>
<path d="M32.0,327.0C32.2,325.7 32.0,326.0 33.4,325.3C34.8,324.6 37.7,323.4 40.3,322.7C42.9,322.0 45.8,321.4 48.9,321.0C52.0,320.6 56.2,320.2 59.2,320.5C62.2,320.8 64.9,321.5 66.9,322.7C68.9,323.9 70.2,326.0 71.2,327.9C72.2,329.8 72.6,331.8 72.9,333.9C73.2,336.0 73.2,338.7 72.9,340.7C72.6,342.7 72.4,344.5 71.2,345.9C70.0,347.3 68.3,348.4 66.0,349.3C63.7,350.2 60.0,350.9 57.4,351.0C54.8,351.1 52.3,350.9 50.6,350.2C48.9,349.5 48.1,348.3 47.2,346.7C46.3,345.1 45.7,342.7 45.4,340.7C45.1,338.7 45.1,336.4 45.4,334.7C45.7,333.0 47.5,331.2 47.2,330.4C46.9,329.5 45.1,329.5 43.7,329.6C42.3,329.8 40.0,330.7 38.6,331.3C37.2,331.9 36.2,332.7 35.1,333.0C34.0,333.3 32.5,334.0 32.0,333.0C31.5,332.0 31.8,328.3 32.0,327.0Z" fill="none" stroke="#3cdc3c" stroke-width="1.25" stroke-linejoin="round"/>
<path d="M32.0,366.3C32.4,365.0 33.2,364.7 34.3,363.7C35.4,362.7 37.2,361.3 38.6,360.3C40.0,359.3 41.5,358.4 42.9,357.7C44.3,357.0 46.0,356.1 47.1,356.0C48.2,355.9 49.1,356.0 49.7,356.9C50.4,357.8 50.9,359.7 51.0,361.1C51.1,362.5 51.0,364.0 50.6,365.4C50.2,366.8 49.6,368.3 48.9,369.7C48.2,371.1 47.2,372.7 46.3,373.6C45.4,374.5 44.7,374.8 43.7,374.9C42.7,375.0 41.6,374.8 40.3,374.4C39.0,374.0 37.4,373.2 36.0,372.7C34.6,372.2 32.7,372.5 32.0,371.4C31.3,370.3 31.6,367.6 32.0,366.3Z" fill="none" stroke="#3cdc3c" stroke-width="1.25" stroke-linejoin="round"/>
<path d="M86.0,353.0C88.0,350.7 92.8,351.5 96.0,351.0C99.2,350.5 101.8,349.7 105.0,350.0C108.2,350.3 112.5,351.5 115.0,353.0C117.5,354.5 118.7,356.7 120.0,359.0C121.3,361.3 122.7,364.3 123.0,367.0C123.3,369.7 123.0,372.7 122.0,375.0C121.0,377.3 118.3,379.0 117.0,381.0C115.7,383.0 115.0,385.3 114.0,387.0C113.0,388.7 112.2,390.2 111.0,391.0C109.8,391.8 108.7,392.0 107.0,392.0C105.3,392.0 103.0,391.0 101.0,391.0C99.0,391.0 97.8,392.2 95.0,392.0C92.2,391.8 87.2,390.8 84.0,390.0C80.8,389.2 77.0,388.2 76.0,387.0C75.0,385.8 76.8,385.0 78.0,383.0C79.2,381.0 82.0,378.0 83.0,375.0C84.0,372.0 83.5,368.7 84.0,365.0C84.5,361.3 84.0,355.3 86.0,353.0Z" fill="none" stroke="#3cdc3c" stroke-width="1.25" stroke-linejoin="round"/>
<path d="M137.0,287.0C136.7,288.0 136.0,291.0 135.0,293.0C134.0,295.0 131.0,297.3 131.0,299.0C131.0,300.7 134.0,300.7 135.0,303.0C136.0,305.3 136.5,310.0 137.0,313.0C137.5,316.0 137.0,318.8 138.0,321.0C139.0,323.2 141.2,324.8 143.0,326.0C144.8,327.2 147.0,327.8 149.0,328.0C151.0,328.2 153.0,327.3 155.0,327.0C157.0,326.7 159.2,326.3 161.0,326.0C162.8,325.7 165.2,325.2 166.0,325.0" fill="none" stroke="#3cdc3c" stroke-width="1.25" stroke-linejoin="round"/>
<path d="M166.0,334.0C164.8,334.2 160.8,334.2 159.0,335.0C157.2,335.8 157.0,338.8 155.0,339.0C153.0,339.2 150.3,336.7 147.0,336.0C143.7,335.3 137.8,334.2 135.0,335.0C132.2,335.8 130.7,338.7 130.0,341.0C129.3,343.3 130.8,346.5 131.0,349.0C131.2,351.5 129.7,354.2 131.0,356.0C132.3,357.8 135.7,358.8 139.0,360.0C142.3,361.2 147.7,362.5 151.0,363.0C154.3,363.5 157.0,362.8 159.0,363.0C161.0,363.2 161.8,363.7 163.0,364.0C164.2,364.3 165.5,364.8 166.0,365.0" fill="none" stroke="#3cdc3c" stroke-width="1.25" stroke-linejoin="round"/>
<circle cx="128" cy="292" r="1.6" fill="none" stroke="#3cdc3c" stroke-width="0.9"/>
<circle cx="121" cy="298" r="0.9" fill="none" stroke="#3cdc3c" stroke-width="0.9"/>
<path d="M159.0,294.0C159.2,293.5 159.8,291.7 160.5,291.0C161.2,290.3 162.1,290.0 163.0,290.0C163.9,290.0 165.5,290.8 166.0,291.0" fill="none" stroke="#3cdc3c" stroke-width="1.25" stroke-linejoin="round"/>
</g>
<text x="38.9" y="298.2" font-size="10.5">&#966;</text>
<text y="299.5" font-size="10.0"><tspan x="46.5" font-size="11">&#8776;</tspan><tspan x="54.7">31&#960;/10</tspan></text>
<text x="62.0" y="321.5" font-size="9.0" fill="#222"><tspan font-style="italic">A</tspan><tspan font-size="6.3" dy="2">2</tspan></text>
<text x="49.0" y="379.0" font-size="9.0" fill="#222"><tspan font-style="italic">B</tspan><tspan font-size="6.3" dy="2">2</tspan></text>
<text x="91.0" y="379.0" font-size="9.0" fill="#222"><tspan font-style="italic">B</tspan><tspan font-size="6.3" dy="2">1</tspan></text>
<text x="136.0" y="308.0" font-size="9.0" fill="#222"><tspan font-style="italic">A</tspan><tspan font-size="5.6" dy="-3.5" font-style="italic">b</tspan><tspan font-size="6.3" dx="-2.9" dy="6">1</tspan></text>
<text x="147.0" y="353.0" font-size="9.0" fill="#222"><tspan font-style="italic">A</tspan><tspan font-size="5.6" dy="-3.5" font-style="italic">a</tspan><tspan font-size="6.3" dx="-2.9" dy="6">1</tspan></text>
<path d="M57.6,408.5v-3.0M57.6,286.7v3.0M87.3,408.5v-3.0M87.3,286.7v3.0M117.1,408.5v-3.0M117.1,286.7v3.0M146.9,408.5v-3.0M146.9,286.7v3.0M32.2,378.8h3.0M164.6,378.8h-3.0M32.2,348.9h3.0M164.6,348.9h-3.0M32.2,319.0h3.0M164.6,319.0h-3.0M32.2,289.2h3.0M164.6,289.2h-3.0" stroke="#333" stroke-width="0.8" fill="none"/>
<path d="M33.8,408.5v-1.3M33.8,286.7v1.3M39.7,408.5v-1.3M39.7,286.7v1.3M45.7,408.5v-1.3M45.7,286.7v1.3M51.6,408.5v-1.3M51.6,286.7v1.3M63.5,408.5v-1.3M63.5,286.7v1.3M69.5,408.5v-1.3M69.5,286.7v1.3M75.4,408.5v-1.3M75.4,286.7v1.3M81.4,408.5v-1.3M81.4,286.7v1.3M93.3,408.5v-1.3M93.3,286.7v1.3M99.2,408.5v-1.3M99.2,286.7v1.3M105.2,408.5v-1.3M105.2,286.7v1.3M111.2,408.5v-1.3M111.2,286.7v1.3M123.1,408.5v-1.3M123.1,286.7v1.3M129.0,408.5v-1.3M129.0,286.7v1.3M135.0,408.5v-1.3M135.0,286.7v1.3M140.9,408.5v-1.3M140.9,286.7v1.3M152.8,408.5v-1.3M152.8,286.7v1.3M158.8,408.5v-1.3M158.8,286.7v1.3M32.2,402.6h1.3M164.6,402.6h-1.3M32.2,396.7h1.3M164.6,396.7h-1.3M32.2,390.7h1.3M164.6,390.7h-1.3M32.2,384.7h1.3M164.6,384.7h-1.3M32.2,372.8h1.3M164.6,372.8h-1.3M32.2,366.8h1.3M164.6,366.8h-1.3M32.2,360.8h1.3M164.6,360.8h-1.3M32.2,354.9h1.3M164.6,354.9h-1.3M32.2,342.9h1.3M164.6,342.9h-1.3M32.2,337.0h1.3M164.6,337.0h-1.3M32.2,331.0h1.3M164.6,331.0h-1.3M32.2,325.0h1.3M164.6,325.0h-1.3M32.2,313.1h1.3M164.6,313.1h-1.3M32.2,307.1h1.3M164.6,307.1h-1.3M32.2,301.1h1.3M164.6,301.1h-1.3M32.2,295.2h1.3M164.6,295.2h-1.3" stroke="#888" stroke-width="0.5" fill="none"/>
<rect x="32.2" y="286.7" width="132.4" height="121.8" fill="none" stroke="#333" stroke-width="0.9"/>
<text x="57.6" y="417.1" font-size="9.0" text-anchor="middle" fill="#222">1</text>
<text x="87.3" y="417.1" font-size="9.0" text-anchor="middle" fill="#222">2</text>
<text x="117.1" y="417.1" font-size="9.0" text-anchor="middle" fill="#222">3</text>
<text x="146.9" y="417.1" font-size="9.0" text-anchor="middle" fill="#222">4</text>
<text x="29.0" y="292.4" font-size="9.0" text-anchor="end" fill="#222">2</text>
<text x="29.0" y="322.2" font-size="9.0" text-anchor="end" fill="#222">1</text>
<text x="29.0" y="352.1" font-size="9.0" text-anchor="end" fill="#222">0</text>
<text x="29.0" y="381.9" font-size="9.0" text-anchor="end" fill="#222">&#8722;1</text>
<text x="29.0" y="411.8" font-size="9.0" text-anchor="end" fill="#222">&#8722;2</text>
<text x="7.5" y="293.3" font-size="10">(<tspan font-style="italic">e</tspan>)</text>
<g clip-path="url(#c21)"><g filter="url(#sm)">
<path d="M197.0,358.0C198.3,355.2 202.0,356.3 205.0,356.0C208.0,355.7 211.2,354.8 215.0,356.0C218.8,357.2 223.0,360.5 228.0,363.0C233.0,365.5 240.0,368.7 245.0,371.0C250.0,373.3 254.7,375.2 258.0,377.0C261.3,378.8 263.8,379.5 265.0,382.0C266.2,384.5 267.5,391.0 265.0,392.0C262.5,393.0 255.0,389.3 250.0,388.0C245.0,386.7 240.0,385.7 235.0,384.0C230.0,382.3 225.0,379.7 220.0,378.0C215.0,376.3 208.8,374.8 205.0,374.0C201.2,373.2 198.3,375.7 197.0,373.0C195.7,370.3 195.7,360.8 197.0,358.0Z" fill="#fde6da"/>
<path d="M260.0,351.0C261.8,348.8 266.3,349.0 270.0,349.0C273.7,349.0 278.3,349.2 282.0,351.0C285.7,352.8 289.7,356.8 292.0,360.0C294.3,363.2 296.0,366.3 296.0,370.0C296.0,373.7 293.8,378.3 292.0,382.0C290.2,385.7 288.7,389.8 285.0,392.0C281.3,394.2 274.5,394.8 270.0,395.0C265.5,395.2 261.0,394.3 258.0,393.0C255.0,391.7 252.3,390.0 252.0,387.0C251.7,384.0 254.8,379.2 256.0,375.0C257.2,370.8 258.3,366.0 259.0,362.0C259.7,358.0 258.2,353.2 260.0,351.0Z" fill="#fde6da"/>
<path d="M222.0,368.0C222.8,367.2 230.3,372.0 235.0,374.0C239.7,376.0 245.5,378.2 250.0,380.0C254.5,381.8 260.7,383.5 262.0,385.0C263.3,386.5 261.0,389.0 258.0,389.0C255.0,389.0 248.7,386.7 244.0,385.0C239.3,383.3 233.7,381.8 230.0,379.0C226.3,376.2 221.2,368.8 222.0,368.0Z" fill="#fbd6c4"/>
<ellipse cx="272.0" cy="376.0" rx="3.0" ry="2.2" fill="#f8c0a6"/>
<path d="M197.0,359.0C198.3,356.8 202.3,357.6 205.0,357.5C207.7,357.4 210.7,357.6 213.0,358.5C215.3,359.4 218.5,361.2 219.0,363.0C219.5,364.8 217.8,367.4 216.0,369.0C214.2,370.6 210.7,371.9 208.0,372.5C205.3,373.1 201.8,372.8 200.0,372.5C198.2,372.2 197.5,373.2 197.0,371.0C196.5,368.8 195.7,361.2 197.0,359.0Z" fill="#fbd0bb"/>
<path d="M197.0,360.5C198.2,358.8 201.7,359.5 204.0,359.5C206.3,359.5 209.2,359.6 211.0,360.5C212.8,361.4 215.0,363.5 215.0,365.0C215.0,366.5 213.0,368.6 211.0,369.5C209.0,370.4 205.3,370.4 203.0,370.5C200.7,370.6 198.0,371.7 197.0,370.0C196.0,368.3 195.8,362.2 197.0,360.5Z" fill="#f4a582"/>
<ellipse cx="206.5" cy="365.5" rx="10.0" ry="5.5" fill="#d6604d" transform="rotate(-25 206.5 365.5)"/>
<ellipse cx="206.0" cy="366.0" rx="7.5" ry="4.0" fill="#c01a2a" transform="rotate(-25 206.0 366.0)"/>
<path d="M197.0,327.0C198.7,324.5 202.8,323.5 207.0,322.0C211.2,320.5 216.5,318.3 222.0,318.0C227.5,317.7 234.8,318.7 240.0,320.0C245.2,321.3 250.2,323.2 253.0,326.0C255.8,328.8 257.0,333.3 257.0,337.0C257.0,340.7 255.8,345.3 253.0,348.0C250.2,350.7 244.7,352.0 240.0,353.0C235.3,354.0 229.5,354.5 225.0,354.0C220.5,353.5 215.5,352.0 213.0,350.0C210.5,348.0 211.3,344.3 210.0,342.0C208.7,339.7 207.2,336.8 205.0,336.0C202.8,335.2 198.3,338.5 197.0,337.0C195.7,335.5 195.3,329.5 197.0,327.0Z" fill="#e4eef8"/>
<path d="M314.0,307.0C314.7,304.8 319.3,306.2 322.0,306.0C324.7,305.8 328.7,303.7 330.0,306.0C331.3,308.3 332.0,317.8 330.0,320.0C328.0,322.2 320.7,321.2 318.0,319.0C315.3,316.8 313.3,309.2 314.0,307.0Z" fill="#e4eef8"/>
<path d="M197.0,328.0C198.3,326.6 202.0,326.1 205.0,325.5C208.0,324.9 211.7,324.5 215.0,324.5C218.3,324.5 224.5,324.8 225.0,325.5C225.5,326.2 220.5,327.7 218.0,328.5C215.5,329.3 212.5,329.9 210.0,330.5C207.5,331.1 205.2,331.4 203.0,332.0C200.8,332.6 198.0,334.7 197.0,334.0C196.0,333.3 195.7,329.4 197.0,328.0Z" fill="#8fbde2"/>
<path d="M197.0,328.7C198.0,327.8 200.8,327.6 203.0,327.5C205.2,327.4 209.5,327.4 210.0,328.0C210.5,328.6 208.2,330.1 206.0,331.0C203.8,331.9 198.5,333.6 197.0,333.2C195.5,332.8 196.0,329.6 197.0,328.7Z" fill="#4a8cc6"/>
<ellipse cx="228.0" cy="339.0" rx="18.0" ry="11.5" fill="#d4e5f4" transform="rotate(3 228.0 339.0)"/>
<ellipse cx="227.5" cy="340.0" rx="13.5" ry="9.5" fill="#b5d3ec" transform="rotate(3 227.5 340.0)"/>
<path d="M212.0,326.0C214.2,325.7 220.7,324.0 225.0,324.0C229.3,324.0 234.8,324.7 238.0,326.0C241.2,327.3 243.0,329.7 244.0,332.0C245.0,334.3 244.7,337.7 244.0,340.0C243.3,342.3 242.3,344.5 240.0,346.0C237.7,347.5 233.3,348.8 230.0,349.0C226.7,349.2 222.5,348.3 220.0,347.0C217.5,345.7 215.5,343.0 215.0,341.0C214.5,339.0 215.3,336.3 217.0,335.0C218.7,333.7 222.3,332.8 225.0,333.0C227.7,333.2 231.3,334.7 233.0,336.0C234.7,337.3 235.5,339.5 235.0,341.0C234.5,342.5 231.7,344.7 230.0,345.0C228.3,345.3 225.8,343.3 225.0,343.0" fill="none" stroke="#9cc4e5" stroke-width="3.2" stroke-linecap="round"/>
<ellipse cx="227.5" cy="340.5" rx="7.0" ry="5.0" fill="#a3c8e7" transform="rotate(3 227.5 340.5)"/>
<ellipse cx="227.5" cy="341.0" rx="3.5" ry="2.6" fill="#86b6de" transform="rotate(3 227.5 341.0)"/>
<ellipse cx="227.5" cy="341.0" rx="3.1" ry="2.0" fill="none" stroke="#7e7e7e" stroke-width="0.48" transform="rotate(3 227.5 341.0)"/>
<ellipse cx="227.5" cy="341.0" rx="5.6" ry="3.7" fill="none" stroke="#7e7e7e" stroke-width="0.48" transform="rotate(3 227.5 341.0)"/>
<ellipse cx="227.5" cy="341.0" rx="8.5" ry="5.6" fill="none" stroke="#7e7e7e" stroke-width="0.48" transform="rotate(3 227.5 341.0)"/>
<ellipse cx="227.5" cy="341.0" rx="11.5" ry="7.5" fill="none" stroke="#7e7e7e" stroke-width="0.48" transform="rotate(3 227.5 341.0)"/>
<ellipse cx="227.5" cy="341.0" rx="15.0" ry="9.8" fill="none" stroke="#7e7e7e" stroke-width="0.48" transform="rotate(3 227.5 341.0)"/>
<ellipse cx="227.5" cy="341.0" rx="18.8" ry="12.3" fill="none" stroke="#7e7e7e" stroke-width="0.48" transform="rotate(3 227.5 341.0)"/>
<ellipse cx="227.5" cy="341.0" rx="22.5" ry="14.8" fill="none" stroke="#7e7e7e" stroke-width="0.48" transform="rotate(3 227.5 341.0)"/>
<ellipse cx="227.5" cy="341.0" rx="1.1" ry="1.1" fill="#333"/>
<path d="M197.0,304.4C204.2,304.1 226.2,302.6 240.0,302.4C253.8,302.2 270.0,303.1 280.0,303.0C290.0,302.9 291.7,302.7 300.0,302.0C308.3,301.3 325.0,299.5 330.0,299.0" fill="none" stroke="#a8a8a8" stroke-width="0.55" marker-mid="url(#ar)"/>
<path d="M197.0,314.0C204.2,313.7 226.2,312.2 240.0,312.0C253.8,311.8 270.0,313.3 280.0,313.0C290.0,312.7 291.7,311.0 300.0,310.0C308.3,309.0 325.0,307.5 330.0,307.0" fill="none" stroke="#a8a8a8" stroke-width="0.55" marker-mid="url(#ar)"/>
<path d="M245.0,321.7C247.5,322.6 255.5,325.1 260.0,327.0C264.5,328.9 268.0,332.0 272.0,333.0C276.0,334.0 279.3,333.8 284.0,333.0C288.7,332.2 292.3,329.7 300.0,328.0C307.7,326.3 325.0,323.8 330.0,323.0" fill="none" stroke="#a8a8a8" stroke-width="0.55" marker-mid="url(#ar)"/>
<path d="M252.0,340.0C254.7,340.5 263.3,342.5 268.0,343.0C272.7,343.5 275.3,343.8 280.0,343.0C284.7,342.2 287.7,339.5 296.0,338.0C304.3,336.5 324.3,334.7 330.0,334.0" fill="none" stroke="#a8a8a8" stroke-width="0.55" marker-mid="url(#ar)"/>
<path d="M255.0,350.0C259.2,350.2 272.5,351.8 280.0,351.0C287.5,350.2 291.7,346.7 300.0,345.0C308.3,343.3 325.0,341.7 330.0,341.0" fill="none" stroke="#a8a8a8" stroke-width="0.55" marker-mid="url(#ar)"/>
<path d="M240.0,355.0C242.5,354.7 249.2,353.7 255.0,353.0C260.8,352.3 267.5,350.5 275.0,350.8C282.5,351.1 290.8,353.4 300.0,354.7C309.2,356.0 325.0,357.9 330.0,358.5" fill="none" stroke="#a8a8a8" stroke-width="0.55" marker-mid="url(#ar)"/>
<path d="M232.0,362.0C235.8,361.7 247.0,360.7 255.0,360.0C263.0,359.3 272.5,357.7 280.0,358.0C287.5,358.3 291.7,360.7 300.0,362.0C308.3,363.3 325.0,365.3 330.0,366.0" fill="none" stroke="#a8a8a8" stroke-width="0.55" marker-mid="url(#ar)"/>
<path d="M228.0,369.0C232.5,369.2 246.3,369.5 255.0,370.0C263.7,370.5 272.5,371.2 280.0,372.0C287.5,372.8 291.7,374.0 300.0,375.0C308.3,376.0 325.0,377.5 330.0,378.0" fill="none" stroke="#a8a8a8" stroke-width="0.55" marker-mid="url(#ar)"/>
<path d="M197.0,381.7C204.2,382.7 226.2,385.9 240.0,387.5C253.8,389.1 270.0,391.1 280.0,391.3C290.0,391.6 291.7,390.0 300.0,389.0C308.3,388.0 325.0,386.1 330.0,385.5" fill="none" stroke="#a8a8a8" stroke-width="0.55" marker-mid="url(#ar)"/>
<path d="M197.0,399.0C207.5,399.3 237.8,401.0 260.0,401.0C282.2,401.0 318.3,399.3 330.0,399.0" fill="none" stroke="#a8a8a8" stroke-width="0.55" marker-mid="url(#ar)"/>
</g>
<path d="M197.0,328.0C197.6,326.8 198.4,326.3 200.6,325.2C202.8,324.1 206.2,322.5 209.9,321.5C213.6,320.5 218.9,319.4 222.9,319.1C226.9,318.8 230.8,318.9 234.0,319.6C237.2,320.3 240.4,321.7 242.4,323.4C244.4,325.1 245.3,327.6 246.1,329.9C246.9,332.2 247.2,334.8 247.0,337.3C246.8,339.8 246.3,342.7 245.1,344.7C243.9,346.7 242.1,348.3 239.6,349.4C237.1,350.5 233.4,350.9 230.3,351.2C227.2,351.5 223.5,351.7 221.0,351.2C218.5,350.7 216.8,349.8 215.4,348.4C214.0,347.0 213.2,345.1 212.6,342.9C212.0,340.7 211.5,337.4 211.7,335.4C211.9,333.4 213.9,331.7 213.6,330.8C213.3,329.9 211.4,329.9 209.9,329.9C208.4,329.9 206.0,330.4 204.3,330.8C202.6,331.2 200.8,332.3 199.6,332.6C198.4,332.9 197.4,333.4 197.0,332.6C196.6,331.8 196.4,329.2 197.0,328.0Z" fill="none" stroke="#3cdc3c" stroke-width="1.25" stroke-linejoin="round"/>
<path d="M197.0,366.7C197.4,365.6 198.2,364.9 199.3,363.7C200.4,362.5 201.9,360.8 203.6,359.4C205.3,358.0 207.6,356.6 209.6,355.6C211.6,354.6 214.2,353.7 215.6,353.4C217.0,353.1 217.5,353.2 218.1,353.9C218.7,354.6 219.0,356.2 219.0,357.7C219.0,359.2 218.6,361.3 218.1,362.9C217.6,364.5 217.0,365.8 216.0,367.1C215.0,368.5 213.4,370.1 212.1,371.0C210.8,371.9 209.5,372.5 207.9,372.7C206.3,372.9 204.3,372.6 202.7,372.3C201.1,372.0 199.3,371.0 198.4,370.6C197.5,370.2 197.2,370.8 197.0,370.1C196.8,369.5 196.6,367.8 197.0,366.7Z" fill="none" stroke="#3cdc3c" stroke-width="1.25" stroke-linejoin="round"/>
<path d="M260.0,351.0C261.5,348.3 264.7,349.0 268.0,349.0C271.3,349.0 277.0,350.0 280.0,351.0C283.0,352.0 284.0,353.3 286.0,355.0C288.0,356.7 290.5,359.0 292.0,361.0C293.5,363.0 294.3,365.2 295.0,367.0C295.7,368.8 296.5,370.0 296.0,372.0C295.5,374.0 293.2,376.5 292.0,379.0C290.8,381.5 290.3,384.7 289.0,387.0C287.7,389.3 286.8,391.7 284.0,393.0C281.2,394.3 276.0,394.7 272.0,395.0C268.0,395.3 262.8,395.2 260.0,395.0C257.2,394.8 256.3,394.7 255.0,394.0C253.7,393.3 252.3,392.5 252.0,391.0C251.7,389.5 252.2,387.3 253.0,385.0C253.8,382.7 256.0,380.3 257.0,377.0C258.0,373.7 258.5,369.3 259.0,365.0C259.5,360.7 258.5,353.7 260.0,351.0Z" fill="none" stroke="#3cdc3c" stroke-width="1.25" stroke-linejoin="round"/>
<path d="M322.0,286.7C321.3,286.8 319.2,287.1 318.0,287.5C316.8,287.9 316.0,288.1 315.0,289.0C314.0,289.9 312.8,291.7 312.0,293.0C311.2,294.3 310.2,295.8 310.0,297.0C309.8,298.2 310.2,299.3 311.0,300.0C311.8,300.7 314.2,300.2 315.0,301.0C315.8,301.8 316.2,303.3 316.0,305.0C315.8,306.7 314.6,309.0 314.0,311.0C313.4,313.0 312.4,315.5 312.4,317.0C312.4,318.5 312.7,319.3 314.0,320.0C315.3,320.7 317.3,321.1 320.0,321.4C322.7,321.7 328.3,321.9 330.0,322.0" fill="none" stroke="#3cdc3c" stroke-width="1.25" stroke-linejoin="round"/>
<path d="M318.0,287.5C318.7,287.8 320.7,288.6 322.0,289.0C323.3,289.4 324.7,290.0 326.0,290.0C327.3,290.0 329.3,289.2 330.0,289.0" fill="none" stroke="#3cdc3c" stroke-width="1.25" stroke-linejoin="round"/>
<path d="M330.0,339.0C328.3,338.8 322.3,338.0 320.0,338.0C317.7,338.0 316.8,337.8 316.0,339.0C315.2,340.2 315.2,342.7 315.0,345.0C314.8,347.3 315.2,352.0 315.0,353.0C314.8,354.0 313.2,350.5 314.0,351.0C314.8,351.5 318.0,354.7 320.0,356.0C322.0,357.3 324.3,358.3 326.0,359.0C327.7,359.7 329.3,359.8 330.0,360.0" fill="none" stroke="#3cdc3c" stroke-width="1.25" stroke-linejoin="round"/>
<ellipse cx="303.5" cy="293" rx="1.6" ry="1.5" fill="none" stroke="#3cdc3c" stroke-width="0.9"/>
<ellipse cx="308.8" cy="326" rx="2" ry="1.1" fill="none" stroke="#3cdc3c" stroke-width="0.9" transform="rotate(-40 308.8 326)"/>
</g>
<text x="199.9" y="298.2" font-size="10.5">&#966;</text>
<text y="299.5" font-size="10.0"><tspan x="207.5" font-size="11">&#8776;</tspan><tspan x="215.7">33&#960;/10</tspan></text>
<text x="218.0" y="319.0" font-size="9.0" fill="#222"><tspan font-style="italic">A</tspan><tspan font-size="6.3" dy="2">2</tspan></text>
<text x="210.0" y="378.5" font-size="9.0" fill="#222"><tspan font-style="italic">B</tspan><tspan font-size="6.3" dy="2">2</tspan></text>
<text x="284.0" y="371.5" font-size="9.0" fill="#222"><tspan font-style="italic">B</tspan><tspan font-size="6.3" dy="2">1</tspan></text>
<text x="319.0" y="307.0" font-size="9.0" fill="#222"><tspan font-style="italic">A</tspan><tspan font-size="5.6" dy="-3.5" font-style="italic">b</tspan><tspan font-size="6.3" dx="-2.9" dy="6">1</tspan></text>
<text x="317.0" y="350.0" font-size="9.0" fill="#222"><tspan font-style="italic">A</tspan><tspan font-size="5.6" dy="-3.5" font-style="italic">a</tspan><tspan font-size="6.3" dx="-2.9" dy="6">1</tspan></text>
<path d="M222.4,408.5v-3.0M222.4,286.7v3.0M252.1,408.5v-3.0M252.1,286.7v3.0M281.9,408.5v-3.0M281.9,286.7v3.0M311.7,408.5v-3.0M311.7,286.7v3.0M197.0,378.8h3.0M329.4,378.8h-3.0M197.0,348.9h3.0M329.4,348.9h-3.0M197.0,319.0h3.0M329.4,319.0h-3.0M197.0,289.2h3.0M329.4,289.2h-3.0" stroke="#333" stroke-width="0.8" fill="none"/>
<path d="M198.6,408.5v-1.3M198.6,286.7v1.3M204.5,408.5v-1.3M204.5,286.7v1.3M210.5,408.5v-1.3M210.5,286.7v1.3M216.4,408.5v-1.3M216.4,286.7v1.3M228.3,408.5v-1.3M228.3,286.7v1.3M234.3,408.5v-1.3M234.3,286.7v1.3M240.2,408.5v-1.3M240.2,286.7v1.3M246.2,408.5v-1.3M246.2,286.7v1.3M258.1,408.5v-1.3M258.1,286.7v1.3M264.0,408.5v-1.3M264.0,286.7v1.3M270.0,408.5v-1.3M270.0,286.7v1.3M276.0,408.5v-1.3M276.0,286.7v1.3M287.9,408.5v-1.3M287.9,286.7v1.3M293.8,408.5v-1.3M293.8,286.7v1.3M299.8,408.5v-1.3M299.8,286.7v1.3M305.7,408.5v-1.3M305.7,286.7v1.3M317.6,408.5v-1.3M317.6,286.7v1.3M323.6,408.5v-1.3M323.6,286.7v1.3M197.0,402.6h1.3M329.4,402.6h-1.3M197.0,396.7h1.3M329.4,396.7h-1.3M197.0,390.7h1.3M329.4,390.7h-1.3M197.0,384.7h1.3M329.4,384.7h-1.3M197.0,372.8h1.3M329.4,372.8h-1.3M197.0,366.8h1.3M329.4,366.8h-1.3M197.0,360.8h1.3M329.4,360.8h-1.3M197.0,354.9h1.3M329.4,354.9h-1.3M197.0,342.9h1.3M329.4,342.9h-1.3M197.0,337.0h1.3M329.4,337.0h-1.3M197.0,331.0h1.3M329.4,331.0h-1.3M197.0,325.0h1.3M329.4,325.0h-1.3M197.0,313.1h1.3M329.4,313.1h-1.3M197.0,307.1h1.3M329.4,307.1h-1.3M197.0,301.1h1.3M329.4,301.1h-1.3M197.0,295.2h1.3M329.4,295.2h-1.3" stroke="#888" stroke-width="0.5" fill="none"/>
<rect x="197.0" y="286.7" width="132.4" height="121.8" fill="none" stroke="#333" stroke-width="0.9"/>
<text x="222.4" y="417.1" font-size="9.0" text-anchor="middle" fill="#222">1</text>
<text x="252.1" y="417.1" font-size="9.0" text-anchor="middle" fill="#222">2</text>
<text x="281.9" y="417.1" font-size="9.0" text-anchor="middle" fill="#222">3</text>
<text x="311.7" y="417.1" font-size="9.0" text-anchor="middle" fill="#222">4</text>
<text x="193.8" y="292.4" font-size="9.0" text-anchor="end" fill="#222">2</text>
<text x="193.8" y="322.2" font-size="9.0" text-anchor="end" fill="#222">1</text>
<text x="193.8" y="352.1" font-size="9.0" text-anchor="end" fill="#222">0</text>
<text x="193.8" y="381.9" font-size="9.0" text-anchor="end" fill="#222">&#8722;1</text>
<text x="193.8" y="411.8" font-size="9.0" text-anchor="end" fill="#222">&#8722;2</text>
<text x="173.5" y="293.3" font-size="10">(<tspan font-style="italic">f</tspan>)</text>
<text x="0" y="71.4" font-size="12" font-style="italic">y/D</text>
<text x="0" y="213.4" font-size="12" font-style="italic">y/D</text>
<text x="0" y="352.7" font-size="12" font-style="italic">y/D</text>
<text x="98.7" y="426.3" font-size="11.5" font-style="italic" text-anchor="middle">x/D</text>
<text x="262.9" y="426.3" font-size="11.5" font-style="italic" text-anchor="middle">x/D</text>
<rect x="330.2" y="36.8" width="6.4" height="3.2" fill="#b2182b"/>
<rect x="330.2" y="40.0" width="6.4" height="6.0" fill="#d6604d"/>
<rect x="330.2" y="46.0" width="6.4" height="5.6" fill="#f4a582"/>
<rect x="330.2" y="51.6" width="6.4" height="5.9" fill="#fbd0bb"/>
<rect x="330.2" y="57.5" width="6.4" height="5.9" fill="#fde9df"/>
<rect x="330.2" y="63.4" width="6.4" height="5.2" fill="#ffffff"/>
<rect x="330.2" y="68.6" width="6.4" height="5.4" fill="#e1edf7"/>
<rect x="330.2" y="74.0" width="6.4" height="6.0" fill="#bcd8ee"/>
<rect x="330.2" y="80.0" width="6.4" height="5.7" fill="#7ab3dc"/>
<rect x="330.2" y="85.7" width="6.4" height="5.7" fill="#3d84c4"/>
<rect x="330.2" y="91.4" width="6.4" height="3.1" fill="#1a56a3"/>
<rect x="330.2" y="36.8" width="6.4" height="57.7" fill="none" stroke="#555" stroke-width="0.4"/>
<text x="337.6" y="41.3" font-size="7">6.0</text>
<text x="337.6" y="47.3" font-size="7">4.7</text>
<text x="337.6" y="52.9" font-size="7">3.3</text>
<text x="337.6" y="58.8" font-size="7">2.0</text>
<text x="337.6" y="64.7" font-size="7">0.7</text>
<text x="337.6" y="69.9" font-size="7">&#8722;0.7</text>
<text x="337.6" y="75.3" font-size="7">&#8722;2.0</text>
<text x="337.6" y="81.3" font-size="7">&#8722;3.3</text>
<text x="337.6" y="87.0" font-size="7">&#8722;4.7</text>
<text x="337.6" y="92.7" font-size="7">&#8722;6.0</text>
<text x="333.4" y="31.5" font-size="9.5" font-style="italic">&#969;<tspan font-size="6" dy="1.2">z</tspan></text>
<path d="M334.6,25.8 q1.1,-1.1 2.2,0 t2.2,0" fill="none" stroke="#222" stroke-width="0.55"/>
</svg>
</body></html>
